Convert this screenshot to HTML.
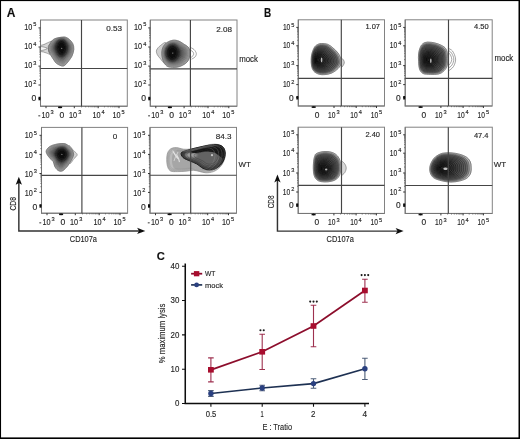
<!DOCTYPE html><html><head><meta charset="utf-8"><style>html,body{margin:0;padding:0;background:#fff;}svg{display:block;}text{font-family:"Liberation Sans", sans-serif;stroke:#2a2a2a;stroke-width:0.15px;}</style></head><body>
<svg width="520" height="439" viewBox="0 0 520 439">
<defs>
<filter id="f0_4" x="-50%" y="-50%" width="200%" height="200%"><feGaussianBlur stdDeviation="0.4"/></filter>
<filter id="f0_5" x="-50%" y="-50%" width="200%" height="200%"><feGaussianBlur stdDeviation="0.5"/></filter>
<filter id="f0_7" x="-50%" y="-50%" width="200%" height="200%"><feGaussianBlur stdDeviation="0.7"/></filter>
<filter id="f1" x="-50%" y="-50%" width="200%" height="200%"><feGaussianBlur stdDeviation="1"/></filter>
<filter id="f1_5" x="-50%" y="-50%" width="200%" height="200%"><feGaussianBlur stdDeviation="1.5"/></filter>
<filter id="f2" x="-50%" y="-50%" width="200%" height="200%"><feGaussianBlur stdDeviation="2"/></filter>
<filter id="f2_5" x="-50%" y="-50%" width="200%" height="200%"><feGaussianBlur stdDeviation="2.5"/></filter>
<filter id="f3" x="-50%" y="-50%" width="200%" height="200%"><feGaussianBlur stdDeviation="3"/></filter>
<filter id="soft" x="0" y="0" width="100%" height="100%"><feGaussianBlur stdDeviation="0.3"/></filter>
</defs>
<rect x="0" y="0" width="520" height="439" fill="#fff"/>
<g filter="url(#soft)">
<text x="6.8" y="16.5" font-size="12" font-weight="bold" fill="#111">A</text>
<text x="264.0" y="16.6" font-size="12" font-weight="bold" fill="#111" textLength="7.2" lengthAdjust="spacingAndGlyphs">B</text>
<text x="156.8" y="259.6" font-size="11.2" font-weight="bold" fill="#111">C</text>
<path d="M52,41 C49,42 44,44.5 41,45.3 L41,51.6 C44,52 47,53 50,54.5 Z" fill="#d6d6d6"/>
<path d="M41,46.5 C43.5,47 46,47.8 47.3,48.4 C46,49 43.5,50 41,50.6 Z" fill="#f4f4f4"/>
<clipPath id="clpa1"><path d="M62.90,37.10 C64.80,36.90 65.10,37.08 66.20,37.50 C67.30,37.92 68.40,38.57 69.50,39.60 C70.60,40.63 72.08,42.07 72.80,43.70 C73.52,45.33 73.93,47.35 73.80,49.40 C73.67,51.45 72.85,54.08 72.00,56.00 C71.15,57.92 69.93,59.33 68.70,60.90 C67.47,62.47 65.83,64.58 64.60,65.40 C63.37,66.22 62.67,66.15 61.30,65.80 C59.93,65.45 57.63,64.27 56.40,63.30 C55.17,62.33 54.85,61.37 53.90,60.00 C52.95,58.63 51.52,56.43 50.70,55.10 C49.88,53.77 49.35,53.27 49.00,52.00 C48.65,50.73 48.32,49.08 48.60,47.50 C48.88,45.92 49.67,43.97 50.70,42.50 C51.73,41.03 52.77,39.60 54.80,38.70 C56.83,37.80 61.00,37.30 62.90,37.10 Z"/></clipPath>
<g filter="url(#f0_4)">
<path d="M62.90,37.10 C64.80,36.90 65.10,37.08 66.20,37.50 C67.30,37.92 68.40,38.57 69.50,39.60 C70.60,40.63 72.08,42.07 72.80,43.70 C73.52,45.33 73.93,47.35 73.80,49.40 C73.67,51.45 72.85,54.08 72.00,56.00 C71.15,57.92 69.93,59.33 68.70,60.90 C67.47,62.47 65.83,64.58 64.60,65.40 C63.37,66.22 62.67,66.15 61.30,65.80 C59.93,65.45 57.63,64.27 56.40,63.30 C55.17,62.33 54.85,61.37 53.90,60.00 C52.95,58.63 51.52,56.43 50.70,55.10 C49.88,53.77 49.35,53.27 49.00,52.00 C48.65,50.73 48.32,49.08 48.60,47.50 C48.88,45.92 49.67,43.97 50.70,42.50 C51.73,41.03 52.77,39.60 54.80,38.70 C56.83,37.80 61.00,37.30 62.90,37.10 Z" fill="rgb(170,170,170)" stroke="rgb(130,130,130)" stroke-width="0.50"/>
<path d="M62.81,37.72 C64.59,37.54 64.87,37.71 65.90,38.10 C66.93,38.49 67.96,39.10 68.99,40.06 C70.01,41.03 71.40,42.37 72.07,43.90 C72.74,45.43 73.13,47.31 73.01,49.23 C72.88,51.15 72.12,53.62 71.33,55.41 C70.53,57.20 69.39,58.53 68.24,59.99 C67.08,61.46 65.55,63.44 64.40,64.20 C63.25,64.97 62.59,64.91 61.31,64.58 C60.03,64.25 57.88,63.14 56.73,62.24 C55.57,61.33 55.28,60.43 54.39,59.15 C53.50,57.87 52.16,55.81 51.39,54.57 C50.63,53.32 50.13,52.85 49.80,51.67 C49.48,50.48 49.16,48.94 49.43,47.45 C49.69,45.97 50.43,44.15 51.39,42.78 C52.36,41.40 53.33,40.06 55.23,39.22 C57.13,38.38 61.03,37.91 62.81,37.72 Z" fill="rgb(160,160,160)" stroke="rgb(120,120,120)" stroke-width="0.50"/>
<path d="M62.72,38.35 C64.38,38.17 64.64,38.33 65.60,38.70 C66.55,39.06 67.51,39.63 68.47,40.53 C69.43,41.43 70.72,42.68 71.35,44.10 C71.97,45.52 72.33,47.28 72.22,49.07 C72.10,50.85 71.39,53.15 70.65,54.82 C69.91,56.49 68.85,57.72 67.77,59.09 C66.70,60.45 65.28,62.30 64.20,63.01 C63.13,63.72 62.52,63.66 61.33,63.36 C60.13,63.05 58.13,62.02 57.06,61.18 C55.98,60.34 55.70,59.49 54.88,58.30 C54.05,57.11 52.80,55.19 52.09,54.03 C51.38,52.87 50.91,52.44 50.61,51.33 C50.30,50.23 50.01,48.79 50.26,47.41 C50.51,46.03 51.19,44.33 52.09,43.05 C52.99,41.77 53.89,40.53 55.66,39.74 C57.43,38.96 61.06,38.52 62.72,38.35 Z" fill="rgb(150,150,150)" stroke="rgb(110,110,110)" stroke-width="0.50"/>
<path d="M62.63,38.97 C64.16,38.81 64.41,38.96 65.29,39.29 C66.18,39.63 67.07,40.15 67.96,40.99 C68.84,41.82 70.04,42.98 70.62,44.30 C71.20,45.62 71.54,47.24 71.43,48.90 C71.32,50.55 70.66,52.68 69.97,54.23 C69.29,55.77 68.31,56.92 67.31,58.18 C66.32,59.45 65.00,61.15 64.00,61.81 C63.01,62.47 62.44,62.42 61.34,62.14 C60.24,61.85 58.38,60.90 57.38,60.12 C56.39,59.34 56.13,58.56 55.37,57.45 C54.60,56.35 53.44,54.58 52.78,53.50 C52.12,52.42 51.69,52.02 51.41,51.00 C51.13,49.97 50.86,48.64 51.09,47.37 C51.32,46.09 51.95,44.51 52.78,43.33 C53.62,42.15 54.45,40.99 56.09,40.26 C57.73,39.54 61.10,39.13 62.63,38.97 Z" fill="rgb(140,140,140)" stroke="rgb(100,100,100)" stroke-width="0.50"/>
<path d="M62.54,39.59 C63.95,39.45 64.17,39.58 64.99,39.89 C65.81,40.20 66.63,40.68 67.44,41.45 C68.26,42.22 69.36,43.28 69.89,44.50 C70.43,45.71 70.74,47.21 70.64,48.73 C70.54,50.25 69.93,52.21 69.30,53.63 C68.67,55.06 67.76,56.11 66.85,57.27 C65.93,58.44 64.72,60.01 63.80,60.62 C62.89,61.22 62.37,61.17 61.35,60.91 C60.34,60.65 58.63,59.78 57.71,59.06 C56.80,58.34 56.56,57.62 55.85,56.61 C55.15,55.59 54.08,53.96 53.48,52.97 C52.87,51.98 52.47,51.60 52.21,50.66 C51.95,49.72 51.71,48.50 51.92,47.32 C52.13,46.14 52.71,44.70 53.48,43.61 C54.24,42.52 55.01,41.45 56.52,40.78 C58.03,40.11 61.13,39.74 62.54,39.59 Z" fill="rgb(130,130,130)" stroke="rgb(90,90,90)" stroke-width="0.50"/>
<path d="M62.45,40.22 C63.74,40.08 63.94,40.21 64.69,40.49 C65.44,40.77 66.18,41.21 66.93,41.91 C67.67,42.62 68.68,43.59 69.17,44.70 C69.65,45.80 69.94,47.17 69.85,48.56 C69.76,49.96 69.20,51.74 68.62,53.04 C68.05,54.34 67.22,55.30 66.39,56.37 C65.55,57.43 64.44,58.87 63.60,59.42 C62.77,59.98 62.29,59.93 61.36,59.69 C60.44,59.46 58.88,58.65 58.04,58.00 C57.20,57.34 56.99,56.68 56.34,55.76 C55.70,54.83 54.73,53.34 54.17,52.43 C53.62,51.53 53.26,51.19 53.02,50.33 C52.78,49.47 52.55,48.35 52.75,47.27 C52.94,46.20 53.47,44.88 54.17,43.88 C54.87,42.89 55.57,41.91 56.95,41.30 C58.33,40.69 61.16,40.35 62.45,40.22 Z" fill="rgb(121,121,121)" stroke="rgb(81,81,81)" stroke-width="0.50"/>
<path d="M62.36,40.84 C63.53,40.72 63.71,40.83 64.39,41.09 C65.06,41.34 65.74,41.74 66.41,42.38 C67.09,43.01 68.00,43.89 68.44,44.90 C68.88,45.90 69.14,47.14 69.06,48.40 C68.97,49.66 68.47,51.27 67.95,52.45 C67.43,53.63 66.68,54.50 65.92,55.46 C65.17,56.42 64.16,57.72 63.40,58.23 C62.65,58.73 62.22,58.69 61.38,58.47 C60.54,58.26 59.12,57.53 58.37,56.94 C57.61,56.34 57.41,55.75 56.83,54.91 C56.25,54.07 55.37,52.72 54.87,51.90 C54.36,51.08 54.04,50.77 53.82,49.99 C53.61,49.22 53.40,48.20 53.58,47.23 C53.75,46.26 54.23,45.06 54.87,44.16 C55.50,43.26 56.14,42.38 57.38,41.82 C58.63,41.27 61.19,40.96 62.36,40.84 Z" fill="rgb(111,111,111)" stroke="rgb(71,71,71)" stroke-width="0.50"/>
<path d="M62.27,41.46 C63.31,41.35 63.48,41.46 64.09,41.69 C64.69,41.91 65.30,42.27 65.90,42.84 C66.51,43.41 67.32,44.20 67.72,45.09 C68.11,45.99 68.34,47.10 68.27,48.23 C68.19,49.36 67.74,50.81 67.28,51.86 C66.81,52.91 66.14,53.69 65.46,54.55 C64.78,55.42 63.88,56.58 63.20,57.03 C62.53,57.48 62.14,57.44 61.39,57.25 C60.64,57.06 59.37,56.41 58.70,55.88 C58.02,55.34 57.84,54.81 57.32,54.06 C56.80,53.31 56.01,52.10 55.56,51.37 C55.11,50.63 54.82,50.36 54.62,49.66 C54.43,48.96 54.25,48.06 54.41,47.19 C54.56,46.31 54.99,45.24 55.56,44.44 C56.13,43.63 56.70,42.84 57.81,42.34 C58.93,41.85 61.22,41.57 62.27,41.46 Z" fill="rgb(102,102,102)" stroke="rgb(62,62,62)" stroke-width="0.50"/>
<path d="M62.18,42.09 C63.10,41.99 63.25,42.08 63.78,42.28 C64.32,42.49 64.85,42.80 65.39,43.30 C65.92,43.80 66.64,44.50 66.99,45.29 C67.34,46.09 67.54,47.07 67.47,48.06 C67.41,49.06 67.01,50.34 66.60,51.27 C66.19,52.20 65.60,52.89 65.00,53.65 C64.40,54.41 63.60,55.44 63.01,55.83 C62.41,56.23 62.07,56.20 61.40,56.03 C60.74,55.86 59.62,55.28 59.02,54.81 C58.42,54.34 58.27,53.88 57.81,53.21 C57.35,52.55 56.65,51.48 56.25,50.83 C55.86,50.18 55.60,49.94 55.43,49.33 C55.26,48.71 55.10,47.91 55.23,47.14 C55.37,46.37 55.75,45.42 56.25,44.71 C56.76,44.00 57.26,43.30 58.25,42.87 C59.23,42.43 61.26,42.19 62.18,42.09 Z" fill="rgb(93,93,93)" stroke="rgb(53,53,53)" stroke-width="0.50"/>
<path d="M62.09,42.71 C62.89,42.63 63.02,42.71 63.48,42.88 C63.94,43.06 64.41,43.33 64.87,43.77 C65.33,44.20 65.96,44.81 66.26,45.49 C66.56,46.18 66.74,47.03 66.68,47.90 C66.63,48.76 66.28,49.87 65.92,50.68 C65.57,51.48 65.05,52.08 64.53,52.74 C64.01,53.40 63.33,54.29 62.81,54.64 C62.29,54.98 61.99,54.95 61.42,54.81 C60.84,54.66 59.87,54.16 59.35,53.75 C58.83,53.35 58.70,52.94 58.30,52.36 C57.90,51.79 57.29,50.86 56.95,50.30 C56.60,49.74 56.38,49.53 56.23,48.99 C56.08,48.46 55.94,47.76 56.06,47.09 C56.18,46.43 56.51,45.61 56.95,44.99 C57.38,44.37 57.82,43.77 58.68,43.39 C59.53,43.01 61.29,42.80 62.09,42.71 Z" fill="rgb(84,84,84)" stroke="rgb(44,44,44)" stroke-width="0.50"/>
<path d="M62.00,43.34 C62.68,43.26 62.79,43.33 63.18,43.48 C63.57,43.63 63.96,43.86 64.36,44.23 C64.75,44.60 65.28,45.11 65.54,45.69 C65.79,46.28 65.94,47.00 65.89,47.73 C65.85,48.46 65.55,49.40 65.25,50.09 C64.95,50.77 64.51,51.28 64.07,51.84 C63.63,52.40 63.05,53.15 62.61,53.44 C62.17,53.73 61.92,53.71 61.43,53.59 C60.94,53.46 60.12,53.04 59.68,52.69 C59.24,52.35 59.12,52.00 58.79,51.51 C58.45,51.03 57.93,50.24 57.64,49.76 C57.35,49.29 57.16,49.11 57.04,48.66 C56.91,48.20 56.79,47.62 56.89,47.05 C56.99,46.48 57.27,45.79 57.64,45.26 C58.01,44.74 58.38,44.23 59.11,43.91 C59.83,43.59 61.32,43.41 62.00,43.34 Z" fill="rgb(75,75,75)" stroke="rgb(35,35,35)" stroke-width="0.50"/>
<path d="M61.91,43.96 C62.47,43.90 62.55,43.95 62.88,44.08 C63.20,44.20 63.52,44.39 63.84,44.69 C64.16,44.99 64.60,45.41 64.81,45.89 C65.02,46.37 65.14,46.96 65.10,47.56 C65.06,48.16 64.82,48.93 64.58,49.49 C64.33,50.06 63.97,50.47 63.61,50.93 C63.25,51.39 62.77,52.01 62.41,52.25 C62.05,52.49 61.84,52.47 61.44,52.36 C61.04,52.26 60.37,51.92 60.01,51.63 C59.65,51.35 59.55,51.07 59.27,50.67 C59.00,50.27 58.58,49.62 58.34,49.23 C58.10,48.84 57.94,48.69 57.84,48.32 C57.74,47.95 57.64,47.47 57.72,47.00 C57.81,46.54 58.03,45.97 58.34,45.54 C58.64,45.11 58.94,44.69 59.54,44.43 C60.13,44.16 61.35,44.02 61.91,43.96 Z" fill="rgb(66,66,66)" stroke="rgb(26,26,26)" stroke-width="0.50"/>
<path d="M61.82,44.58 C62.25,44.54 62.32,44.58 62.57,44.67 C62.83,44.77 63.08,44.92 63.33,45.15 C63.58,45.39 63.92,45.72 64.08,46.09 C64.25,46.46 64.34,46.93 64.31,47.39 C64.28,47.86 64.09,48.46 63.90,48.90 C63.71,49.34 63.43,49.66 63.15,50.02 C62.86,50.38 62.49,50.86 62.21,51.05 C61.93,51.24 61.77,51.22 61.45,51.14 C61.14,51.06 60.62,50.79 60.33,50.57 C60.05,50.35 59.98,50.13 59.76,49.82 C59.55,49.50 59.22,49.00 59.03,48.70 C58.84,48.39 58.72,48.28 58.64,47.99 C58.56,47.70 58.49,47.32 58.55,46.96 C58.62,46.60 58.80,46.15 59.03,45.82 C59.27,45.48 59.50,45.15 59.97,44.95 C60.43,44.74 61.39,44.63 61.82,44.58 Z" fill="rgb(57,57,57)" stroke="rgb(17,17,17)" stroke-width="0.50"/>
<path d="M61.73,45.21 C62.04,45.17 62.09,45.20 62.27,45.27 C62.45,45.34 62.63,45.45 62.81,45.62 C63.00,45.79 63.24,46.02 63.36,46.29 C63.47,46.56 63.54,46.89 63.52,47.23 C63.50,47.56 63.36,48.00 63.23,48.31 C63.09,48.63 62.89,48.86 62.68,49.12 C62.48,49.37 62.21,49.72 62.01,49.86 C61.81,49.99 61.69,49.98 61.47,49.92 C61.24,49.86 60.86,49.67 60.66,49.51 C60.46,49.35 60.41,49.19 60.25,48.97 C60.10,48.74 59.86,48.38 59.73,48.16 C59.59,47.94 59.50,47.86 59.45,47.65 C59.39,47.45 59.33,47.18 59.38,46.91 C59.43,46.65 59.56,46.33 59.73,46.09 C59.90,45.85 60.07,45.62 60.40,45.47 C60.73,45.32 61.42,45.24 61.73,45.21 Z" fill="rgb(49,49,49)" stroke="rgb(9,9,9)" stroke-width="0.50"/>
<path d="M61.64,45.83 C61.83,45.81 61.86,45.83 61.97,45.87 C62.08,45.91 62.19,45.98 62.30,46.08 C62.41,46.18 62.56,46.33 62.63,46.49 C62.70,46.65 62.74,46.85 62.73,47.06 C62.72,47.26 62.63,47.53 62.55,47.72 C62.46,47.91 62.34,48.05 62.22,48.21 C62.10,48.37 61.93,48.58 61.81,48.66 C61.69,48.74 61.62,48.73 61.48,48.70 C61.34,48.66 61.11,48.55 60.99,48.45 C60.87,48.35 60.84,48.26 60.74,48.12 C60.65,47.98 60.50,47.76 60.42,47.63 C60.34,47.50 60.28,47.45 60.25,47.32 C60.22,47.19 60.18,47.03 60.21,46.87 C60.24,46.71 60.32,46.52 60.42,46.37 C60.52,46.22 60.63,46.08 60.83,45.99 C61.03,45.90 61.45,45.85 61.64,45.83 Z" fill="rgb(41,41,41)" stroke="rgb(1,1,1)" stroke-width="0.50"/>
<path d="M62.90,37.10 C64.80,36.90 65.10,37.08 66.20,37.50 C67.30,37.92 68.40,38.57 69.50,39.60 C70.60,40.63 72.08,42.07 72.80,43.70 C73.52,45.33 73.93,47.35 73.80,49.40 C73.67,51.45 72.85,54.08 72.00,56.00 C71.15,57.92 69.93,59.33 68.70,60.90 C67.47,62.47 65.83,64.58 64.60,65.40 C63.37,66.22 62.67,66.15 61.30,65.80 C59.93,65.45 57.63,64.27 56.40,63.30 C55.17,62.33 54.85,61.37 53.90,60.00 C52.95,58.63 51.52,56.43 50.70,55.10 C49.88,53.77 49.35,53.27 49.00,52.00 C48.65,50.73 48.32,49.08 48.60,47.50 C48.88,45.92 49.67,43.97 50.70,42.50 C51.73,41.03 52.77,39.60 54.80,38.70 C56.83,37.80 61.00,37.30 62.90,37.10 Z" fill="none" stroke="#666" stroke-width="0.6"/>
</g>
<ellipse cx="61.50" cy="47.80" rx="5.60" ry="8.80" fill="#0e0e0e" opacity="0.90" filter="url(#f1_5)"/>
<ellipse cx="61.70" cy="48.30" rx="0.60" ry="0.60" fill="#aaa" filter="url(#f0_7)" opacity="0.85"/>
<path d="M52.00,41.00 C51.25,41.30 48.83,42.22 47.50,42.80 C46.17,43.38 45.08,44.08 44.00,44.50 C42.92,44.92 41.50,45.17 41.00,45.30 " fill="none" stroke="#6a6a6a" stroke-width="0.6"/>
<path d="M50.00,54.50 C49.42,54.25 47.58,53.42 46.50,53.00 C45.42,52.58 44.42,52.23 43.50,52.00 C42.58,51.77 41.42,51.67 41.00,51.60 " fill="none" stroke="#6a6a6a" stroke-width="0.6"/>
<path d="M41.00,46.50 C41.58,46.62 43.45,46.88 44.50,47.20 C45.55,47.52 47.30,47.97 47.30,48.40 C47.30,48.83 45.55,49.43 44.50,49.80 C43.45,50.17 41.58,50.47 41.00,50.60 " fill="none" stroke="#6a6a6a" stroke-width="0.6"/>
<path d="M50.50,43.50 C50.17,43.83 48.88,44.67 48.50,45.50 C48.12,46.33 48.12,47.50 48.20,48.50 C48.28,49.50 48.62,50.75 49.00,51.50 C49.38,52.25 50.25,52.75 50.50,53.00 " fill="none" stroke="#6a6a6a" stroke-width="0.6"/>
<path d="M166.00,43.00 C165.08,41.42 162.07,44.33 160.50,45.50 C158.93,46.67 157.15,48.50 156.60,50.00 C156.05,51.50 156.58,53.07 157.20,54.50 C157.82,55.93 159.08,57.18 160.30,58.60 C161.52,60.02 163.55,63.60 164.50,63.00 C165.45,62.40 165.75,58.33 166.00,55.00 C166.25,51.67 166.92,44.58 166.00,43.00 Z" fill="#cfcfcf" stroke="#6e6e6e" stroke-width="0.6"/>
<clipPath id="clpa2"><path d="M173.20,40.20 C175.17,39.97 177.10,40.50 178.80,41.10 C180.50,41.70 181.72,42.65 183.40,43.80 C185.08,44.95 187.82,46.22 188.90,48.00 C189.98,49.78 189.97,52.50 189.90,54.50 C189.83,56.50 189.28,58.47 188.50,60.00 C187.72,61.53 186.67,62.62 185.20,63.70 C183.73,64.78 181.53,65.88 179.70,66.50 C177.87,67.12 176.20,67.40 174.20,67.40 C172.20,67.40 169.35,67.23 167.70,66.50 C166.05,65.77 165.20,64.42 164.30,63.00 C163.40,61.58 162.72,59.83 162.30,58.00 C161.88,56.17 161.63,53.92 161.80,52.00 C161.97,50.08 162.43,48.08 163.30,46.50 C164.17,44.92 165.35,43.55 167.00,42.50 C168.65,41.45 171.23,40.43 173.20,40.20 Z"/></clipPath>
<g filter="url(#f0_4)">
<path d="M173.20,40.20 C175.17,39.97 177.10,40.50 178.80,41.10 C180.50,41.70 181.72,42.65 183.40,43.80 C185.08,44.95 187.82,46.22 188.90,48.00 C189.98,49.78 189.97,52.50 189.90,54.50 C189.83,56.50 189.28,58.47 188.50,60.00 C187.72,61.53 186.67,62.62 185.20,63.70 C183.73,64.78 181.53,65.88 179.70,66.50 C177.87,67.12 176.20,67.40 174.20,67.40 C172.20,67.40 169.35,67.23 167.70,66.50 C166.05,65.77 165.20,64.42 164.30,63.00 C163.40,61.58 162.72,59.83 162.30,58.00 C161.88,56.17 161.63,53.92 161.80,52.00 C161.97,50.08 162.43,48.08 163.30,46.50 C164.17,44.92 165.35,43.55 167.00,42.50 C168.65,41.45 171.23,40.43 173.20,40.20 Z" fill="rgb(170,170,170)" stroke="rgb(130,130,130)" stroke-width="0.50"/>
<path d="M173.16,40.99 C175.00,40.77 176.80,41.27 178.40,41.83 C179.99,42.39 181.12,43.28 182.70,44.36 C184.27,45.44 186.83,46.62 187.85,48.29 C188.86,49.96 188.84,52.50 188.78,54.37 C188.72,56.24 188.20,58.08 187.47,59.52 C186.74,60.95 185.76,61.97 184.38,62.98 C183.01,63.99 180.95,65.02 179.24,65.60 C177.52,66.18 175.96,66.44 174.09,66.44 C172.22,66.44 169.55,66.29 168.01,65.60 C166.46,64.91 165.67,63.65 164.83,62.33 C163.99,61.00 163.35,59.36 162.96,57.65 C162.57,55.93 162.33,53.83 162.49,52.03 C162.64,50.24 163.08,48.37 163.89,46.89 C164.70,45.40 165.81,44.13 167.35,43.14 C168.90,42.16 171.31,41.21 173.16,40.99 Z" fill="rgb(160,160,160)" stroke="rgb(120,120,120)" stroke-width="0.50"/>
<path d="M173.11,41.78 C174.82,41.58 176.51,42.04 177.99,42.57 C179.47,43.09 180.53,43.92 182.00,44.92 C183.47,45.92 185.85,47.02 186.79,48.58 C187.74,50.13 187.72,52.50 187.66,54.24 C187.60,55.99 187.13,57.70 186.44,59.04 C185.76,60.37 184.85,61.32 183.57,62.26 C182.29,63.20 180.37,64.16 178.77,64.70 C177.18,65.24 175.72,65.48 173.98,65.48 C172.24,65.48 169.75,65.34 168.32,64.70 C166.88,64.06 166.14,62.88 165.35,61.65 C164.57,60.42 163.97,58.89 163.61,57.29 C163.25,55.70 163.03,53.73 163.18,52.06 C163.32,50.39 163.73,48.65 164.48,47.27 C165.24,45.89 166.27,44.70 167.71,43.79 C169.14,42.87 171.40,41.98 173.11,41.78 Z" fill="rgb(150,150,150)" stroke="rgb(110,110,110)" stroke-width="0.50"/>
<path d="M173.06,42.57 C174.65,42.38 176.21,42.81 177.59,43.30 C178.96,43.78 179.94,44.55 181.30,45.48 C182.66,46.41 184.86,47.43 185.74,48.87 C186.61,50.31 186.60,52.50 186.54,54.11 C186.49,55.73 186.05,57.32 185.41,58.55 C184.78,59.79 183.93,60.67 182.75,61.54 C181.57,62.41 179.79,63.30 178.31,63.80 C176.83,64.30 175.49,64.53 173.87,64.53 C172.26,64.53 169.96,64.39 168.63,63.80 C167.29,63.21 166.61,62.12 165.88,60.98 C165.16,59.83 164.60,58.42 164.27,56.94 C163.93,55.46 163.73,53.64 163.86,52.10 C164.00,50.55 164.37,48.94 165.07,47.66 C165.77,46.38 166.73,45.28 168.06,44.43 C169.39,43.58 171.48,42.76 173.06,42.57 Z" fill="rgb(140,140,140)" stroke="rgb(100,100,100)" stroke-width="0.50"/>
<path d="M173.02,43.36 C174.48,43.19 175.92,43.59 177.18,44.03 C178.44,44.48 179.35,45.18 180.60,46.04 C181.85,46.89 183.88,47.83 184.68,49.16 C185.49,50.48 185.48,52.50 185.43,53.99 C185.38,55.47 184.97,56.93 184.39,58.07 C183.80,59.21 183.02,60.02 181.93,60.82 C180.84,61.62 179.21,62.44 177.85,62.90 C176.49,63.36 175.25,63.57 173.76,63.57 C172.28,63.57 170.16,63.44 168.93,62.90 C167.71,62.36 167.08,61.35 166.41,60.30 C165.74,59.25 165.23,57.95 164.92,56.59 C164.61,55.22 164.43,53.55 164.55,52.13 C164.68,50.70 165.02,49.22 165.67,48.04 C166.31,46.87 167.19,45.85 168.41,45.07 C169.64,44.29 171.56,43.54 173.02,43.36 Z" fill="rgb(130,130,130)" stroke="rgb(90,90,90)" stroke-width="0.50"/>
<path d="M172.97,44.15 C174.31,44.00 175.62,44.36 176.78,44.76 C177.93,45.17 178.75,45.82 179.90,46.60 C181.04,47.38 182.89,48.24 183.63,49.45 C184.36,50.66 184.35,52.50 184.31,53.86 C184.26,55.21 183.89,56.55 183.36,57.59 C182.83,58.63 182.11,59.36 181.12,60.10 C180.12,60.84 178.63,61.58 177.39,62.00 C176.14,62.42 175.01,62.61 173.65,62.61 C172.30,62.61 170.36,62.50 169.24,62.00 C168.12,61.50 167.55,60.59 166.94,59.62 C166.32,58.66 165.86,57.48 165.58,56.23 C165.30,54.99 165.13,53.46 165.24,52.16 C165.35,50.86 165.67,49.50 166.26,48.43 C166.85,47.35 167.65,46.43 168.77,45.71 C169.89,45.00 171.64,44.31 172.97,44.15 Z" fill="rgb(121,121,121)" stroke="rgb(81,81,81)" stroke-width="0.50"/>
<path d="M172.93,44.94 C174.14,44.80 175.33,45.13 176.37,45.50 C177.41,45.87 178.16,46.45 179.20,47.16 C180.23,47.86 181.91,48.64 182.57,49.74 C183.24,50.83 183.23,52.50 183.19,53.73 C183.15,54.96 182.81,56.17 182.33,57.11 C181.85,58.05 181.20,58.71 180.30,59.38 C179.40,60.05 178.05,60.72 176.92,61.10 C175.80,61.48 174.77,61.65 173.54,61.65 C172.32,61.65 170.56,61.55 169.55,61.10 C168.54,60.65 168.02,59.82 167.46,58.95 C166.91,58.08 166.49,57.00 166.23,55.88 C165.98,54.75 165.82,53.37 165.93,52.19 C166.03,51.02 166.32,49.79 166.85,48.81 C167.38,47.84 168.11,47.00 169.12,46.36 C170.13,45.71 171.72,45.09 172.93,44.94 Z" fill="rgb(111,111,111)" stroke="rgb(71,71,71)" stroke-width="0.50"/>
<path d="M172.88,45.73 C173.97,45.61 175.03,45.90 175.97,46.23 C176.90,46.56 177.57,47.08 178.50,47.71 C179.42,48.35 180.92,49.04 181.52,50.02 C182.12,51.01 182.11,52.50 182.07,53.60 C182.03,54.70 181.73,55.78 181.30,56.62 C180.87,57.47 180.29,58.06 179.48,58.66 C178.68,59.26 177.47,59.86 176.46,60.20 C175.45,60.54 174.53,60.70 173.44,60.70 C172.34,60.70 170.77,60.60 169.86,60.20 C168.95,59.80 168.49,59.05 167.99,58.27 C167.50,57.50 167.12,56.53 166.89,55.52 C166.66,54.52 166.52,53.28 166.62,52.23 C166.71,51.17 166.96,50.07 167.44,49.20 C167.92,48.33 168.57,47.58 169.47,47.00 C170.38,46.42 171.80,45.86 172.88,45.73 Z" fill="rgb(102,102,102)" stroke="rgb(62,62,62)" stroke-width="0.50"/>
<path d="M172.84,46.53 C173.80,46.41 174.73,46.67 175.56,46.96 C176.39,47.25 176.98,47.72 177.79,48.27 C178.61,48.83 179.94,49.45 180.47,50.31 C180.99,51.18 180.98,52.50 180.95,53.47 C180.92,54.44 180.65,55.40 180.27,56.14 C179.89,56.89 179.38,57.41 178.67,57.94 C177.96,58.47 176.89,59.00 176.00,59.30 C175.11,59.60 174.30,59.74 173.33,59.74 C172.35,59.74 170.97,59.66 170.17,59.30 C169.37,58.94 168.95,58.29 168.52,57.60 C168.08,56.91 167.75,56.06 167.55,55.17 C167.34,54.28 167.22,53.19 167.30,52.26 C167.38,51.33 167.61,50.35 168.03,49.59 C168.45,48.82 169.03,48.15 169.83,47.64 C170.63,47.13 171.88,46.64 172.84,46.53 Z" fill="rgb(93,93,93)" stroke="rgb(53,53,53)" stroke-width="0.50"/>
<path d="M172.79,47.32 C173.62,47.22 174.44,47.44 175.16,47.70 C175.87,47.95 176.38,48.35 177.09,48.83 C177.80,49.32 178.95,49.85 179.41,50.60 C179.87,51.36 179.86,52.50 179.83,53.34 C179.80,54.19 179.57,55.01 179.24,55.66 C178.91,56.31 178.47,56.76 177.85,57.22 C177.23,57.68 176.31,58.14 175.53,58.40 C174.76,58.66 174.06,58.78 173.22,58.78 C172.37,58.78 171.17,58.71 170.48,58.40 C169.78,58.09 169.42,57.52 169.04,56.92 C168.66,56.33 168.38,55.59 168.20,54.82 C168.03,54.05 167.92,53.10 167.99,52.29 C168.06,51.48 168.26,50.64 168.62,49.97 C168.99,49.30 169.49,48.73 170.18,48.29 C170.88,47.84 171.97,47.41 172.79,47.32 Z" fill="rgb(84,84,84)" stroke="rgb(44,44,44)" stroke-width="0.50"/>
<path d="M172.75,48.11 C173.45,48.02 174.14,48.21 174.75,48.43 C175.36,48.64 175.79,48.98 176.39,49.39 C176.99,49.80 177.97,50.26 178.36,50.89 C178.74,51.53 178.74,52.50 178.71,53.21 C178.69,53.93 178.49,54.63 178.21,55.18 C177.93,55.73 177.56,56.11 177.04,56.50 C176.51,56.89 175.73,57.28 175.07,57.50 C174.42,57.72 173.82,57.82 173.11,57.82 C172.39,57.82 171.38,57.76 170.79,57.50 C170.20,57.24 169.89,56.76 169.57,56.25 C169.25,55.74 169.01,55.12 168.86,54.46 C168.71,53.81 168.62,53.01 168.68,52.32 C168.74,51.64 168.90,50.92 169.21,50.36 C169.52,49.79 169.95,49.30 170.54,48.93 C171.12,48.55 172.05,48.19 172.75,48.11 Z" fill="rgb(75,75,75)" stroke="rgb(35,35,35)" stroke-width="0.50"/>
<path d="M172.70,48.90 C173.28,48.83 173.85,48.99 174.34,49.16 C174.84,49.34 175.20,49.62 175.69,49.95 C176.19,50.29 176.99,50.66 177.30,51.18 C177.62,51.70 177.62,52.50 177.60,53.09 C177.58,53.67 177.42,54.25 177.19,54.70 C176.96,55.15 176.65,55.46 176.22,55.78 C175.79,56.10 175.15,56.42 174.61,56.60 C174.07,56.78 173.58,56.86 173.00,56.86 C172.41,56.86 171.58,56.81 171.09,56.60 C170.61,56.39 170.36,55.99 170.10,55.58 C169.84,55.16 169.63,54.65 169.51,54.11 C169.39,53.57 169.32,52.91 169.37,52.35 C169.42,51.79 169.55,51.21 169.81,50.74 C170.06,50.28 170.41,49.88 170.89,49.57 C171.37,49.26 172.13,48.97 172.70,48.90 Z" fill="rgb(66,66,66)" stroke="rgb(26,26,26)" stroke-width="0.50"/>
<path d="M172.66,49.69 C173.11,49.64 173.55,49.76 173.94,49.89 C174.33,50.03 174.61,50.25 174.99,50.51 C175.38,50.77 176.00,51.06 176.25,51.47 C176.50,51.88 176.49,52.50 176.48,52.96 C176.46,53.41 176.34,53.86 176.16,54.21 C175.98,54.56 175.74,54.81 175.40,55.06 C175.07,55.31 174.56,55.56 174.15,55.70 C173.73,55.84 173.35,55.91 172.89,55.91 C172.43,55.91 171.78,55.87 171.40,55.70 C171.03,55.53 170.83,55.22 170.63,54.90 C170.42,54.58 170.26,54.18 170.17,53.76 C170.07,53.34 170.02,52.82 170.05,52.39 C170.09,51.95 170.20,51.49 170.40,51.13 C170.60,50.77 170.87,50.45 171.24,50.21 C171.62,49.97 172.21,49.74 172.66,49.69 Z" fill="rgb(57,57,57)" stroke="rgb(17,17,17)" stroke-width="0.50"/>
<path d="M172.62,50.48 C172.94,50.44 173.26,50.53 173.53,50.63 C173.81,50.73 174.01,50.88 174.29,51.07 C174.57,51.26 175.02,51.47 175.19,51.76 C175.37,52.05 175.37,52.50 175.36,52.83 C175.35,53.16 175.26,53.48 175.13,53.73 C175.00,53.98 174.83,54.16 174.59,54.34 C174.35,54.52 173.98,54.70 173.68,54.80 C173.38,54.90 173.11,54.95 172.78,54.95 C172.45,54.95 171.98,54.92 171.71,54.80 C171.44,54.68 171.30,54.46 171.15,54.23 C171.01,53.99 170.89,53.70 170.82,53.40 C170.76,53.10 170.71,52.73 170.74,52.42 C170.77,52.10 170.85,51.77 170.99,51.51 C171.13,51.25 171.33,51.03 171.60,50.86 C171.87,50.68 172.29,50.52 172.62,50.48 Z" fill="rgb(49,49,49)" stroke="rgb(9,9,9)" stroke-width="0.50"/>
<path d="M172.57,51.27 C172.77,51.25 172.96,51.30 173.13,51.36 C173.30,51.42 173.42,51.52 173.59,51.63 C173.76,51.75 174.03,51.87 174.14,52.05 C174.25,52.23 174.25,52.50 174.24,52.70 C174.23,52.90 174.18,53.10 174.10,53.25 C174.02,53.40 173.92,53.51 173.77,53.62 C173.62,53.73 173.40,53.84 173.22,53.90 C173.04,53.96 172.87,53.99 172.67,53.99 C172.47,53.99 172.19,53.97 172.02,53.90 C171.86,53.83 171.77,53.69 171.68,53.55 C171.59,53.41 171.52,53.23 171.48,53.05 C171.44,52.87 171.41,52.64 171.43,52.45 C171.45,52.26 171.49,52.06 171.58,51.90 C171.67,51.74 171.78,51.60 171.95,51.50 C172.11,51.40 172.37,51.29 172.57,51.27 Z" fill="rgb(41,41,41)" stroke="rgb(1,1,1)" stroke-width="0.50"/>
<path d="M173.20,40.20 C175.17,39.97 177.10,40.50 178.80,41.10 C180.50,41.70 181.72,42.65 183.40,43.80 C185.08,44.95 187.82,46.22 188.90,48.00 C189.98,49.78 189.97,52.50 189.90,54.50 C189.83,56.50 189.28,58.47 188.50,60.00 C187.72,61.53 186.67,62.62 185.20,63.70 C183.73,64.78 181.53,65.88 179.70,66.50 C177.87,67.12 176.20,67.40 174.20,67.40 C172.20,67.40 169.35,67.23 167.70,66.50 C166.05,65.77 165.20,64.42 164.30,63.00 C163.40,61.58 162.72,59.83 162.30,58.00 C161.88,56.17 161.63,53.92 161.80,52.00 C161.97,50.08 162.43,48.08 163.30,46.50 C164.17,44.92 165.35,43.55 167.00,42.50 C168.65,41.45 171.23,40.43 173.20,40.20 Z" fill="none" stroke="#666" stroke-width="0.6"/>
</g>
<ellipse cx="172.30" cy="52.80" rx="6.50" ry="8.50" fill="#0e0e0e" opacity="0.90" filter="url(#f1_5)"/>
<ellipse cx="172.80" cy="53.10" rx="0.60" ry="0.60" fill="#aaa" filter="url(#f0_7)" opacity="0.85"/>
<path d="M189.50,47.00 C190.25,47.42 192.87,48.42 194.00,49.50 C195.13,50.58 196.13,52.25 196.30,53.50 C196.47,54.75 195.80,56.05 195.00,57.00 C194.20,57.95 192.08,58.83 191.50,59.20 " fill="none" stroke="#6a6a6a" stroke-width="0.6"/>
<path d="M189.50,49.50 C190.08,49.92 192.33,51.08 193.00,52.00 C193.67,52.92 193.83,54.08 193.50,55.00 C193.17,55.92 191.42,57.08 191.00,57.50 " fill="none" stroke="#6a6a6a" stroke-width="0.6"/>
<path d="M68.50,146.00 C69.17,143.92 72.05,149.05 73.50,150.50 C74.95,151.95 77.12,153.35 77.20,154.70 C77.28,156.05 75.28,157.22 74.00,158.60 C72.72,159.98 70.42,165.10 69.50,163.00 C68.58,160.90 67.83,148.08 68.50,146.00 Z" fill="#d4d4d4" stroke="#777" stroke-width="0.6"/>
<clipPath id="clpa3"><path d="M61.10,143.60 C62.83,143.53 64.43,143.40 65.90,144.00 C67.37,144.60 68.78,146.10 69.90,147.20 C71.02,148.30 71.98,149.37 72.60,150.60 C73.22,151.83 73.67,153.27 73.60,154.60 C73.53,155.93 72.95,157.05 72.20,158.60 C71.45,160.15 70.15,162.35 69.10,163.90 C68.05,165.45 67.10,166.70 65.90,167.90 C64.70,169.10 63.23,170.70 61.90,171.10 C60.57,171.50 59.10,171.10 57.90,170.30 C56.70,169.50 55.48,167.77 54.70,166.30 C53.92,164.83 54.12,162.97 53.20,161.50 C52.28,160.03 50.33,158.97 49.20,157.50 C48.07,156.03 46.80,154.02 46.40,152.70 C46.00,151.38 46.20,150.65 46.80,149.60 C47.40,148.55 48.55,147.27 50.00,146.40 C51.45,145.53 53.65,144.87 55.50,144.40 C57.35,143.93 59.37,143.67 61.10,143.60 Z"/></clipPath>
<g filter="url(#f0_4)">
<path d="M61.10,143.60 C62.83,143.53 64.43,143.40 65.90,144.00 C67.37,144.60 68.78,146.10 69.90,147.20 C71.02,148.30 71.98,149.37 72.60,150.60 C73.22,151.83 73.67,153.27 73.60,154.60 C73.53,155.93 72.95,157.05 72.20,158.60 C71.45,160.15 70.15,162.35 69.10,163.90 C68.05,165.45 67.10,166.70 65.90,167.90 C64.70,169.10 63.23,170.70 61.90,171.10 C60.57,171.50 59.10,171.10 57.90,170.30 C56.70,169.50 55.48,167.77 54.70,166.30 C53.92,164.83 54.12,162.97 53.20,161.50 C52.28,160.03 50.33,158.97 49.20,157.50 C48.07,156.03 46.80,154.02 46.40,152.70 C46.00,151.38 46.20,150.65 46.80,149.60 C47.40,148.55 48.55,147.27 50.00,146.40 C51.45,145.53 53.65,144.87 55.50,144.40 C57.35,143.93 59.37,143.67 61.10,143.60 Z" fill="rgb(170,170,170)" stroke="rgb(130,130,130)" stroke-width="0.50"/>
<path d="M61.15,144.30 C62.77,144.24 64.27,144.11 65.64,144.68 C67.02,145.24 68.34,146.64 69.39,147.67 C70.43,148.70 71.34,149.70 71.91,150.85 C72.49,152.00 72.91,153.35 72.85,154.59 C72.79,155.84 72.24,156.89 71.54,158.34 C70.84,159.79 69.62,161.85 68.64,163.30 C67.65,164.75 66.77,165.92 65.64,167.04 C64.52,168.16 63.15,169.66 61.90,170.03 C60.65,170.41 59.28,170.03 58.16,169.28 C57.03,168.54 55.90,166.91 55.16,165.54 C54.43,164.17 54.62,162.42 53.76,161.05 C52.90,159.68 51.08,158.68 50.02,157.31 C48.96,155.93 47.77,154.05 47.40,152.82 C47.02,151.58 47.21,150.90 47.77,149.91 C48.33,148.93 49.41,147.73 50.77,146.92 C52.12,146.11 54.18,145.49 55.91,145.05 C57.64,144.61 59.53,144.36 61.15,144.30 Z" fill="rgb(160,160,160)" stroke="rgb(120,120,120)" stroke-width="0.50"/>
<path d="M61.20,145.00 C62.71,144.94 64.11,144.83 65.39,145.35 C66.66,145.87 67.90,147.18 68.87,148.14 C69.84,149.10 70.69,150.03 71.22,151.10 C71.76,152.18 72.15,153.43 72.10,154.59 C72.04,155.75 71.53,156.72 70.88,158.07 C70.22,159.42 69.09,161.34 68.17,162.69 C67.26,164.04 66.43,165.13 65.39,166.18 C64.34,167.22 63.06,168.62 61.90,168.97 C60.74,169.31 59.46,168.97 58.41,168.27 C57.37,167.57 56.31,166.06 55.63,164.78 C54.94,163.50 55.12,161.88 54.32,160.60 C53.52,159.32 51.82,158.39 50.83,157.11 C49.85,155.84 48.74,154.08 48.39,152.93 C48.04,151.78 48.22,151.14 48.74,150.23 C49.26,149.31 50.27,148.20 51.53,147.44 C52.79,146.69 54.71,146.11 56.32,145.70 C57.94,145.29 59.69,145.06 61.20,145.00 Z" fill="rgb(150,150,150)" stroke="rgb(110,110,110)" stroke-width="0.50"/>
<path d="M61.25,145.70 C62.65,145.65 63.94,145.54 65.13,146.03 C66.31,146.51 67.46,147.72 68.36,148.61 C69.26,149.50 70.04,150.36 70.54,151.35 C71.03,152.35 71.40,153.50 71.34,154.58 C71.29,155.66 70.82,156.56 70.21,157.81 C69.61,159.06 68.56,160.84 67.71,162.09 C66.86,163.34 66.10,164.35 65.13,165.32 C64.16,166.28 62.98,167.58 61.90,167.90 C60.82,168.22 59.64,167.90 58.67,167.25 C57.70,166.61 56.72,165.21 56.09,164.02 C55.46,162.84 55.62,161.33 54.88,160.15 C54.14,158.97 52.56,158.11 51.65,156.92 C50.73,155.74 49.71,154.11 49.39,153.05 C49.07,151.98 49.23,151.39 49.71,150.54 C50.20,149.70 51.12,148.66 52.30,147.96 C53.47,147.26 55.24,146.72 56.73,146.35 C58.23,145.97 59.86,145.76 61.25,145.70 Z" fill="rgb(140,140,140)" stroke="rgb(100,100,100)" stroke-width="0.50"/>
<path d="M61.31,146.40 C62.59,146.35 63.78,146.25 64.87,146.70 C65.96,147.15 67.01,148.26 67.84,149.08 C68.67,149.89 69.39,150.69 69.85,151.60 C70.31,152.52 70.64,153.58 70.59,154.57 C70.54,155.56 70.11,156.39 69.55,157.55 C68.99,158.70 68.03,160.33 67.25,161.48 C66.47,162.63 65.76,163.56 64.87,164.45 C63.98,165.35 62.89,166.53 61.90,166.83 C60.91,167.13 59.82,166.83 58.93,166.24 C58.04,165.64 57.13,164.36 56.55,163.27 C55.97,162.18 56.12,160.79 55.44,159.70 C54.76,158.61 53.31,157.82 52.47,156.73 C51.62,155.64 50.68,154.14 50.39,153.16 C50.09,152.18 50.24,151.64 50.68,150.86 C51.13,150.08 51.98,149.13 53.06,148.48 C54.14,147.84 55.77,147.34 57.15,147.00 C58.52,146.65 60.02,146.45 61.31,146.40 Z" fill="rgb(130,130,130)" stroke="rgb(90,90,90)" stroke-width="0.50"/>
<path d="M61.36,147.10 C62.53,147.06 63.62,146.97 64.61,147.38 C65.61,147.78 66.57,148.80 67.33,149.55 C68.09,150.29 68.74,151.02 69.16,151.85 C69.58,152.69 69.88,153.66 69.84,154.57 C69.79,155.47 69.40,156.23 68.89,157.28 C68.38,158.33 67.50,159.83 66.79,160.88 C66.07,161.93 65.43,162.78 64.61,163.59 C63.80,164.41 62.80,165.49 61.90,165.76 C61.00,166.04 60.00,165.76 59.19,165.22 C58.37,164.68 57.55,163.50 57.01,162.51 C56.48,161.51 56.62,160.25 56.00,159.25 C55.37,158.25 54.05,157.53 53.28,156.54 C52.51,155.54 51.65,154.17 51.38,153.28 C51.11,152.39 51.25,151.89 51.65,151.17 C52.06,150.46 52.84,149.59 53.83,149.00 C54.81,148.42 56.30,147.96 57.56,147.65 C58.81,147.33 60.18,147.15 61.36,147.10 Z" fill="rgb(121,121,121)" stroke="rgb(81,81,81)" stroke-width="0.50"/>
<path d="M61.41,147.80 C62.47,147.76 63.46,147.68 64.36,148.05 C65.26,148.42 66.13,149.34 66.81,150.02 C67.50,150.69 68.09,151.35 68.47,152.10 C68.85,152.86 69.13,153.74 69.09,154.56 C69.05,155.38 68.69,156.07 68.23,157.02 C67.77,157.97 66.97,159.32 66.32,160.27 C65.68,161.23 65.09,161.99 64.36,162.73 C63.62,163.47 62.72,164.45 61.90,164.70 C61.08,164.94 60.18,164.70 59.44,164.21 C58.71,163.71 57.96,162.65 57.48,161.75 C57.00,160.85 57.12,159.70 56.56,158.80 C55.99,157.90 54.79,157.24 54.10,156.34 C53.40,155.44 52.62,154.20 52.38,153.39 C52.13,152.59 52.26,152.13 52.62,151.49 C52.99,150.85 53.70,150.06 54.59,149.52 C55.48,148.99 56.83,148.58 57.97,148.30 C59.11,148.01 60.34,147.85 61.41,147.80 Z" fill="rgb(111,111,111)" stroke="rgb(71,71,71)" stroke-width="0.50"/>
<path d="M61.46,148.50 C62.41,148.47 63.29,148.39 64.10,148.72 C64.91,149.06 65.69,149.88 66.30,150.48 C66.91,151.09 67.45,151.68 67.78,152.35 C68.12,153.03 68.37,153.82 68.33,154.56 C68.30,155.29 67.98,155.90 67.56,156.75 C67.15,157.61 66.44,158.82 65.86,159.67 C65.28,160.52 64.76,161.21 64.10,161.87 C63.44,162.53 62.63,163.41 61.90,163.63 C61.17,163.85 60.36,163.63 59.70,163.19 C59.04,162.75 58.37,161.80 57.94,160.99 C57.51,160.18 57.62,159.16 57.12,158.35 C56.61,157.54 55.54,156.96 54.91,156.15 C54.29,155.34 53.59,154.23 53.38,153.51 C53.16,152.79 53.27,152.38 53.59,151.81 C53.92,151.23 54.56,150.52 55.35,150.05 C56.15,149.57 57.36,149.20 58.38,148.94 C59.40,148.69 60.51,148.54 61.46,148.50 Z" fill="rgb(102,102,102)" stroke="rgb(62,62,62)" stroke-width="0.50"/>
<path d="M61.51,149.21 C62.35,149.17 63.13,149.11 63.84,149.40 C64.56,149.69 65.24,150.42 65.79,150.95 C66.33,151.49 66.80,152.01 67.10,152.61 C67.40,153.20 67.62,153.90 67.58,154.55 C67.55,155.20 67.27,155.74 66.90,156.49 C66.54,157.24 65.91,158.31 65.40,159.07 C64.89,159.82 64.43,160.43 63.84,161.01 C63.26,161.59 62.55,162.37 61.90,162.56 C61.25,162.76 60.54,162.56 59.96,162.17 C59.37,161.79 58.78,160.94 58.40,160.23 C58.02,159.52 58.12,158.61 57.67,157.90 C57.23,157.19 56.28,156.67 55.73,155.96 C55.18,155.24 54.57,154.27 54.37,153.63 C54.18,152.99 54.27,152.63 54.57,152.12 C54.86,151.61 55.42,150.99 56.12,150.57 C56.82,150.14 57.89,149.82 58.79,149.59 C59.69,149.37 60.67,149.24 61.51,149.21 Z" fill="rgb(93,93,93)" stroke="rgb(53,53,53)" stroke-width="0.50"/>
<path d="M61.56,149.91 C62.29,149.88 62.97,149.82 63.59,150.07 C64.20,150.33 64.80,150.96 65.27,151.42 C65.74,151.89 66.15,152.34 66.41,152.86 C66.67,153.38 66.86,153.98 66.83,154.54 C66.80,155.10 66.56,155.57 66.24,156.23 C65.92,156.88 65.38,157.81 64.93,158.46 C64.49,159.11 64.09,159.64 63.59,160.15 C63.08,160.65 62.46,161.33 61.90,161.50 C61.34,161.66 60.72,161.50 60.21,161.16 C59.71,160.82 59.20,160.09 58.87,159.47 C58.54,158.85 58.62,158.07 58.23,157.45 C57.85,156.83 57.03,156.38 56.55,155.76 C56.07,155.15 55.54,154.30 55.37,153.74 C55.20,153.19 55.28,152.88 55.54,152.44 C55.79,151.99 56.27,151.45 56.88,151.09 C57.50,150.72 58.42,150.44 59.20,150.24 C59.98,150.05 60.83,149.93 61.56,149.91 Z" fill="rgb(84,84,84)" stroke="rgb(44,44,44)" stroke-width="0.50"/>
<path d="M61.61,150.61 C62.23,150.58 62.80,150.54 63.33,150.75 C63.85,150.96 64.36,151.50 64.76,151.89 C65.16,152.29 65.50,152.67 65.72,153.11 C65.94,153.55 66.10,154.06 66.08,154.54 C66.05,155.01 65.85,155.41 65.58,155.96 C65.31,156.52 64.85,157.30 64.47,157.86 C64.10,158.41 63.76,158.86 63.33,159.29 C62.90,159.71 62.38,160.29 61.90,160.43 C61.42,160.57 60.90,160.43 60.47,160.14 C60.04,159.86 59.61,159.24 59.33,158.71 C59.05,158.19 59.12,157.52 58.79,157.00 C58.47,156.48 57.77,156.10 57.36,155.57 C56.96,155.05 56.51,154.33 56.36,153.86 C56.22,153.39 56.29,153.12 56.51,152.75 C56.72,152.38 57.13,151.92 57.65,151.61 C58.17,151.30 58.95,151.06 59.61,150.89 C60.27,150.73 61.00,150.63 61.61,150.61 Z" fill="rgb(75,75,75)" stroke="rgb(35,35,35)" stroke-width="0.50"/>
<path d="M61.67,151.31 C62.17,151.29 62.64,151.25 63.07,151.43 C63.50,151.60 63.92,152.04 64.24,152.36 C64.57,152.68 64.85,153.00 65.03,153.36 C65.21,153.72 65.35,154.14 65.33,154.53 C65.31,154.92 65.14,155.25 64.92,155.70 C64.70,156.15 64.32,156.80 64.01,157.25 C63.70,157.71 63.42,158.07 63.07,158.42 C62.72,158.78 62.29,159.24 61.90,159.36 C61.51,159.48 61.08,159.36 60.73,159.13 C60.38,158.89 60.02,158.39 59.79,157.96 C59.56,157.53 59.62,156.98 59.35,156.55 C59.08,156.12 58.51,155.81 58.18,155.38 C57.85,154.95 57.48,154.36 57.36,153.97 C57.24,153.59 57.30,153.37 57.48,153.06 C57.65,152.76 57.99,152.38 58.41,152.13 C58.84,151.87 59.48,151.68 60.03,151.54 C60.57,151.41 61.16,151.33 61.67,151.31 Z" fill="rgb(66,66,66)" stroke="rgb(26,26,26)" stroke-width="0.50"/>
<path d="M61.72,152.01 C62.11,151.99 62.48,151.96 62.81,152.10 C63.15,152.24 63.47,152.58 63.73,152.83 C63.98,153.08 64.20,153.33 64.35,153.61 C64.49,153.89 64.59,154.22 64.57,154.52 C64.56,154.83 64.43,155.08 64.25,155.44 C64.08,155.79 63.79,156.29 63.55,156.65 C63.31,157.00 63.09,157.29 62.81,157.56 C62.54,157.84 62.20,158.20 61.90,158.29 C61.60,158.39 61.26,158.29 60.99,158.11 C60.71,157.93 60.43,157.53 60.25,157.20 C60.08,156.86 60.12,156.44 59.91,156.10 C59.70,155.76 59.26,155.52 59.00,155.19 C58.74,154.85 58.45,154.39 58.36,154.09 C58.27,153.79 58.31,153.62 58.45,153.38 C58.59,153.14 58.85,152.85 59.18,152.65 C59.51,152.45 60.01,152.30 60.44,152.19 C60.86,152.08 61.32,152.02 61.72,152.01 Z" fill="rgb(57,57,57)" stroke="rgb(17,17,17)" stroke-width="0.50"/>
<path d="M61.77,152.71 C62.05,152.70 62.32,152.68 62.56,152.78 C62.80,152.87 63.03,153.12 63.21,153.30 C63.40,153.48 63.56,153.66 63.66,153.86 C63.76,154.06 63.83,154.30 63.82,154.52 C63.81,154.74 63.72,154.92 63.59,155.17 C63.47,155.43 63.26,155.79 63.08,156.04 C62.91,156.30 62.75,156.50 62.56,156.70 C62.36,156.90 62.12,157.16 61.90,157.23 C61.68,157.29 61.44,157.23 61.24,157.10 C61.05,156.96 60.85,156.68 60.72,156.44 C60.59,156.20 60.62,155.89 60.47,155.65 C60.32,155.41 60.00,155.23 59.81,154.99 C59.63,154.75 59.42,154.42 59.35,154.20 C59.29,153.99 59.32,153.87 59.42,153.69 C59.52,153.52 59.71,153.31 59.95,153.17 C60.18,153.03 60.54,152.92 60.85,152.84 C61.15,152.76 61.48,152.72 61.77,152.71 Z" fill="rgb(49,49,49)" stroke="rgb(9,9,9)" stroke-width="0.50"/>
<path d="M61.82,153.41 C61.99,153.40 62.15,153.39 62.30,153.45 C62.45,153.51 62.59,153.66 62.70,153.77 C62.81,153.88 62.91,153.99 62.97,154.11 C63.03,154.23 63.08,154.38 63.07,154.51 C63.06,154.64 63.01,154.75 62.93,154.91 C62.85,155.06 62.72,155.28 62.62,155.44 C62.52,155.59 62.42,155.72 62.30,155.84 C62.18,155.96 62.03,156.12 61.90,156.16 C61.77,156.20 61.62,156.16 61.50,156.08 C61.38,156.00 61.26,155.83 61.18,155.68 C61.10,155.53 61.12,155.35 61.03,155.20 C60.94,155.05 60.74,154.95 60.63,154.80 C60.52,154.65 60.39,154.45 60.35,154.32 C60.31,154.19 60.33,154.11 60.39,154.01 C60.45,153.91 60.56,153.78 60.71,153.69 C60.86,153.60 61.07,153.54 61.26,153.49 C61.45,153.44 61.65,153.42 61.82,153.41 Z" fill="rgb(41,41,41)" stroke="rgb(1,1,1)" stroke-width="0.50"/>
<path d="M61.10,143.60 C62.83,143.53 64.43,143.40 65.90,144.00 C67.37,144.60 68.78,146.10 69.90,147.20 C71.02,148.30 71.98,149.37 72.60,150.60 C73.22,151.83 73.67,153.27 73.60,154.60 C73.53,155.93 72.95,157.05 72.20,158.60 C71.45,160.15 70.15,162.35 69.10,163.90 C68.05,165.45 67.10,166.70 65.90,167.90 C64.70,169.10 63.23,170.70 61.90,171.10 C60.57,171.50 59.10,171.10 57.90,170.30 C56.70,169.50 55.48,167.77 54.70,166.30 C53.92,164.83 54.12,162.97 53.20,161.50 C52.28,160.03 50.33,158.97 49.20,157.50 C48.07,156.03 46.80,154.02 46.40,152.70 C46.00,151.38 46.20,150.65 46.80,149.60 C47.40,148.55 48.55,147.27 50.00,146.40 C51.45,145.53 53.65,144.87 55.50,144.40 C57.35,143.93 59.37,143.67 61.10,143.60 Z" fill="none" stroke="#666" stroke-width="0.6"/>
</g>
<ellipse cx="61.80" cy="154.30" rx="6.00" ry="6.80" fill="#0e0e0e" opacity="0.90" filter="url(#f1_5)"/>
<ellipse cx="61.90" cy="154.30" rx="0.60" ry="0.60" fill="#aaa" filter="url(#f0_7)" opacity="0.85"/>
<path d="M167.10,154.80 C167.62,152.23 168.67,150.40 170.20,149.20 C171.73,148.00 174.05,147.60 176.30,147.60 C178.55,147.60 181.23,148.98 183.70,149.20 C186.17,149.42 188.23,149.30 191.10,148.90 C193.97,148.50 197.62,147.55 200.90,146.80 C204.18,146.05 207.92,144.78 210.80,144.40 C213.68,144.02 216.07,143.97 218.20,144.50 C220.33,145.03 222.40,146.05 223.60,147.60 C224.80,149.15 225.37,151.53 225.40,153.80 C225.43,156.07 224.72,158.95 223.80,161.20 C222.88,163.45 221.62,165.57 219.90,167.30 C218.18,169.03 215.83,170.68 213.50,171.60 C211.17,172.52 208.23,172.82 205.90,172.80 C203.57,172.78 201.57,171.92 199.50,171.50 C197.43,171.08 195.72,170.35 193.50,170.30 C191.28,170.25 188.87,170.98 186.20,171.20 C183.53,171.42 180.17,171.67 177.50,171.60 C174.83,171.53 171.93,171.97 170.20,170.80 C168.47,169.63 167.62,167.27 167.10,164.60 C166.58,161.93 166.58,157.37 167.10,154.80 Z" fill="#bababa" stroke="#808080" stroke-width="0.6" filter="url(#f0_4)"/>
<path d="M172.30,155.74 C172.73,153.63 173.59,152.13 174.84,151.14 C176.10,150.16 178.00,149.83 179.85,149.83 C181.69,149.83 183.89,150.97 185.91,151.14 C187.94,151.32 189.63,151.23 191.98,150.90 C194.33,150.57 197.33,149.79 200.02,149.18 C202.71,148.56 205.77,147.52 208.14,147.21 C210.50,146.89 212.45,146.85 214.20,147.29 C215.95,147.73 217.65,148.56 218.63,149.83 C219.62,151.10 220.08,153.06 220.11,154.92 C220.14,156.77 219.55,159.14 218.80,160.98 C218.04,162.83 217.01,164.56 215.60,165.99 C214.19,167.41 212.26,168.76 210.35,169.51 C208.44,170.26 206.03,170.51 204.12,170.50 C202.20,170.48 200.56,169.77 198.87,169.43 C197.18,169.09 195.77,168.49 193.95,168.45 C192.13,168.41 190.15,169.01 187.96,169.18 C185.78,169.36 183.02,169.57 180.83,169.51 C178.64,169.46 176.27,169.81 174.84,168.86 C173.42,167.90 172.73,165.96 172.30,163.77 C171.88,161.59 171.88,157.84 172.30,155.74 Z" fill="#a6a6a6" filter="url(#f0_5)"/>
<path d="M172.5,150.5 L176,156 L178,158.5" fill="none" stroke="#e4e4e4" stroke-width="1.3" filter="url(#f0_5)"/>
<path d="M176.5,154.5 L178.5,158.5 L179.5,162" fill="none" stroke="#e0e0e0" stroke-width="1.1" filter="url(#f0_5)"/>
<path d="M178,152 L175,158 L174,161" fill="none" stroke="#d4d4d4" stroke-width="0.9" filter="url(#f0_5)"/>
<path d="M181.50,152.50 C182.67,151.17 186.92,150.42 190.00,149.50 C193.08,148.58 196.83,147.72 200.00,147.00 C203.17,146.28 206.00,145.57 209.00,145.20 C212.00,144.83 215.63,144.45 218.00,144.80 C220.37,145.15 222.00,145.93 223.20,147.30 C224.40,148.67 225.10,150.88 225.20,153.00 C225.30,155.12 224.62,157.95 223.80,160.00 C222.98,162.05 221.93,163.75 220.30,165.30 C218.67,166.85 216.22,168.55 214.00,169.30 C211.78,170.05 209.08,170.10 207.00,169.80 C204.92,169.50 203.17,168.47 201.50,167.50 C199.83,166.53 198.92,165.08 197.00,164.00 C195.08,162.92 192.33,162.08 190.00,161.00 C187.67,159.92 184.42,158.92 183.00,157.50 C181.58,156.08 180.33,153.83 181.50,152.50 Z" fill="#3a3a3a" stroke="#1a1a1a" stroke-width="1.0" filter="url(#f0_4)"/>
<path d="M186.20,154.32 C187.13,153.33 190.53,152.78 193.00,152.10 C195.47,151.42 198.47,150.78 201.00,150.25 C203.53,149.72 205.80,149.19 208.20,148.92 C210.60,148.65 213.51,148.36 215.40,148.62 C217.29,148.88 218.60,149.46 219.56,150.47 C220.52,151.48 221.08,153.12 221.16,154.69 C221.24,156.26 220.69,158.35 220.04,159.87 C219.39,161.39 218.55,162.65 217.24,163.79 C215.93,164.94 213.97,166.20 212.20,166.75 C210.43,167.31 208.27,167.34 206.60,167.12 C204.93,166.90 203.53,166.14 202.20,165.42 C200.87,164.70 200.13,163.63 198.60,162.83 C197.07,162.03 194.87,161.41 193.00,160.61 C191.13,159.81 188.53,159.07 187.40,158.02 C186.27,156.97 185.27,155.31 186.20,154.32 Z" fill="#636363" filter="url(#f1)"/>
<ellipse cx="191" cy="155" rx="6" ry="2.6" fill="#a0a0a0" filter="url(#f1)"/>
<path d="M190.00,152.00 C190.67,151.33 196.83,149.83 200.00,149.00 C203.17,148.17 206.00,147.45 209.00,147.00 C212.00,146.55 215.75,146.05 218.00,146.30 C220.25,146.55 221.50,147.38 222.50,148.50 C223.50,149.62 223.92,151.33 224.00,153.00 C224.08,154.67 223.75,158.00 223.00,158.50 C222.25,159.00 221.00,157.00 219.50,156.00 C218.00,155.00 216.42,153.25 214.00,152.50 C211.58,151.75 208.00,151.42 205.00,151.50 C202.00,151.58 198.50,152.92 196.00,153.00 C193.50,153.08 189.33,152.67 190.00,152.00 Z" fill="#151515" filter="url(#f0_5)"/>
<path d="M167.86,155.16 C168.34,152.78 169.32,151.07 170.75,149.96 C172.17,148.84 174.33,148.47 176.42,148.47 C178.51,148.47 181.01,149.75 183.30,149.96 C185.59,150.16 187.52,150.05 190.18,149.68 C192.85,149.31 196.24,148.42 199.30,147.72 C202.35,147.03 205.82,145.85 208.50,145.49 C211.19,145.14 213.40,145.09 215.39,145.59 C217.37,146.08 219.29,147.03 220.41,148.47 C221.52,149.91 222.05,152.13 222.08,154.23 C222.11,156.34 221.45,159.02 220.59,161.12 C219.74,163.21 218.56,165.18 216.97,166.79 C215.37,168.40 213.19,169.94 211.01,170.79 C208.84,171.64 206.12,171.92 203.95,171.90 C201.78,171.89 199.92,171.08 198.00,170.69 C196.07,170.31 194.48,169.63 192.41,169.58 C190.35,169.53 188.11,170.21 185.63,170.42 C183.15,170.62 180.01,170.85 177.53,170.79 C175.06,170.73 172.36,171.13 170.75,170.04 C169.13,168.96 168.34,166.76 167.86,164.28 C167.38,161.80 167.38,157.55 167.86,155.16 Z" fill="none" stroke="#8c8c8c" stroke-width="0.45" opacity="0.8"/>
<path d="M168.63,155.53 C169.07,153.32 169.97,151.74 171.29,150.71 C172.61,149.68 174.60,149.34 176.54,149.34 C178.47,149.34 180.78,150.53 182.90,150.71 C185.02,150.90 186.80,150.80 189.27,150.45 C191.73,150.11 194.87,149.29 197.69,148.65 C200.52,148.00 203.73,146.91 206.21,146.58 C208.69,146.25 210.74,146.21 212.57,146.67 C214.41,147.13 216.18,148.00 217.22,149.34 C218.25,150.67 218.74,152.72 218.76,154.67 C218.79,156.62 218.18,159.10 217.39,161.03 C216.60,162.97 215.51,164.79 214.03,166.28 C212.56,167.77 210.54,169.19 208.53,169.98 C206.52,170.76 204.00,171.02 201.99,171.01 C199.99,170.99 198.27,170.25 196.49,169.89 C194.71,169.53 193.24,168.90 191.33,168.86 C189.42,168.81 187.35,169.45 185.05,169.63 C182.76,169.82 179.86,170.03 177.57,169.98 C175.28,169.92 172.78,170.29 171.29,169.29 C169.80,168.28 169.07,166.25 168.63,163.96 C168.18,161.66 168.18,157.74 168.63,155.53 Z" fill="none" stroke="#8c8c8c" stroke-width="0.45" opacity="0.8"/>
<path d="M169.50,155.94 C169.90,153.94 170.72,152.51 171.92,151.58 C173.11,150.64 174.92,150.33 176.67,150.33 C178.43,150.33 180.52,151.41 182.45,151.58 C184.37,151.75 185.98,151.65 188.22,151.34 C190.45,151.03 193.30,150.29 195.86,149.70 C198.42,149.12 201.34,148.13 203.58,147.83 C205.83,147.53 207.69,147.49 209.36,147.91 C211.02,148.33 212.63,149.12 213.57,150.33 C214.50,151.54 214.95,153.40 214.97,155.16 C215.00,156.93 214.44,159.18 213.72,160.94 C213.01,162.69 212.02,164.34 210.68,165.69 C209.34,167.05 207.51,168.33 205.69,169.05 C203.87,169.76 201.58,170.00 199.76,169.98 C197.94,169.97 196.38,169.29 194.77,168.97 C193.16,168.65 191.82,168.07 190.09,168.03 C188.36,168.00 186.48,168.57 184.40,168.74 C182.32,168.90 179.69,169.10 177.61,169.05 C175.53,169.00 173.27,169.33 171.92,168.42 C170.56,167.51 169.90,165.67 169.50,163.59 C169.09,161.51 169.09,157.95 169.50,155.94 Z" fill="none" stroke="#8c8c8c" stroke-width="0.45" opacity="0.8"/>
<path d="M184.35,152.95 C185.40,151.75 189.22,151.07 192.00,150.25 C194.78,149.43 198.15,148.65 201.00,148.00 C203.85,147.35 206.40,146.71 209.10,146.38 C211.80,146.05 215.07,145.71 217.20,146.02 C219.33,146.34 220.80,147.04 221.88,148.27 C222.96,149.50 223.59,151.50 223.68,153.40 C223.77,155.31 223.16,157.85 222.42,159.70 C221.69,161.54 220.74,163.07 219.27,164.47 C217.80,165.87 215.59,167.40 213.60,168.07 C211.60,168.75 209.18,168.79 207.30,168.52 C205.43,168.25 203.85,167.32 202.35,166.45 C200.85,165.58 200.03,164.28 198.30,163.30 C196.58,162.33 194.10,161.57 192.00,160.60 C189.90,159.62 186.97,158.72 185.70,157.45 C184.42,156.17 183.30,154.15 184.35,152.95 Z" fill="none" stroke="#2a2a2a" stroke-width="0.45" opacity="0.7"/>
<path d="M187.20,153.40 C188.13,152.33 191.53,151.73 194.00,151.00 C196.47,150.27 199.47,149.57 202.00,149.00 C204.53,148.43 206.80,147.85 209.20,147.56 C211.60,147.27 214.51,146.96 216.40,147.24 C218.29,147.52 219.60,148.15 220.56,149.24 C221.52,150.33 222.08,152.11 222.16,153.80 C222.24,155.49 221.69,157.76 221.04,159.40 C220.39,161.04 219.55,162.40 218.24,163.64 C216.93,164.88 214.97,166.24 213.20,166.84 C211.43,167.44 209.27,167.48 207.60,167.24 C205.93,167.00 204.53,166.17 203.20,165.40 C201.87,164.63 201.13,163.47 199.60,162.60 C198.07,161.73 195.87,161.07 194.00,160.20 C192.13,159.33 189.53,158.53 188.40,157.40 C187.27,156.27 186.27,154.47 187.20,153.40 Z" fill="none" stroke="#2a2a2a" stroke-width="0.45" opacity="0.7"/>
<path d="M190.62,153.94 C191.41,153.03 194.30,152.52 196.40,151.90 C198.50,151.28 201.05,150.69 203.20,150.20 C205.35,149.71 207.28,149.23 209.32,148.98 C211.36,148.73 213.83,148.47 215.44,148.70 C217.05,148.94 218.16,149.47 218.98,150.40 C219.79,151.33 220.27,152.84 220.34,154.28 C220.40,155.72 219.94,157.65 219.38,159.04 C218.83,160.43 218.11,161.59 217.00,162.64 C215.89,163.70 214.23,164.85 212.72,165.36 C211.21,165.87 209.38,165.91 207.96,165.70 C206.54,165.50 205.35,164.80 204.22,164.14 C203.09,163.48 202.46,162.50 201.16,161.76 C199.86,161.02 197.99,160.46 196.40,159.72 C194.81,158.98 192.60,158.30 191.64,157.34 C190.68,156.38 189.83,154.85 190.62,153.94 Z" fill="none" stroke="#2a2a2a" stroke-width="0.45" opacity="0.7"/>
<path d="M194.32,154.53 C194.97,153.79 197.30,153.38 199.00,152.88 C200.70,152.37 202.76,151.89 204.50,151.50 C206.24,151.11 207.80,150.71 209.45,150.51 C211.10,150.31 213.10,150.10 214.40,150.29 C215.70,150.48 216.60,150.91 217.26,151.67 C217.92,152.42 218.30,153.64 218.36,154.80 C218.41,155.96 218.04,157.52 217.59,158.65 C217.14,159.78 216.56,160.71 215.67,161.56 C214.77,162.42 213.42,163.35 212.20,163.77 C210.98,164.18 209.50,164.21 208.35,164.04 C207.20,163.88 206.24,163.31 205.32,162.78 C204.41,162.24 203.90,161.45 202.85,160.85 C201.80,160.25 200.28,159.80 199.00,159.20 C197.72,158.60 195.93,158.05 195.15,157.28 C194.37,156.50 193.68,155.26 194.32,154.53 Z" fill="none" stroke="#2a2a2a" stroke-width="0.45" opacity="0.7"/>
<circle cx="212" cy="155.2" r="1.1" fill="#c8c8c8" filter="url(#f0_5)"/>
<clipPath id="clpb1"><path d="M321.60,43.50 C323.18,43.50 325.73,43.58 327.60,44.30 C329.47,45.02 331.07,46.35 332.80,47.80 C334.53,49.25 336.70,51.27 338.00,53.00 C339.30,54.73 340.07,56.47 340.60,58.20 C341.13,59.93 341.63,61.67 341.20,63.40 C340.77,65.13 339.53,67.02 338.00,68.60 C336.47,70.18 334.17,71.90 332.00,72.90 C329.83,73.90 327.17,74.38 325.00,74.60 C322.83,74.82 320.87,74.77 319.00,74.20 C317.13,73.63 315.03,72.57 313.80,71.20 C312.57,69.83 312.03,68.03 311.60,66.00 C311.17,63.97 311.12,61.17 311.20,59.00 C311.28,56.83 311.52,55.02 312.10,53.00 C312.68,50.98 313.70,48.35 314.70,46.90 C315.70,45.45 316.95,44.87 318.10,44.30 C319.25,43.73 320.02,43.50 321.60,43.50 Z"/></clipPath>
<g filter="url(#f0_4)">
<path d="M321.60,43.50 C323.18,43.50 325.73,43.58 327.60,44.30 C329.47,45.02 331.07,46.35 332.80,47.80 C334.53,49.25 336.70,51.27 338.00,53.00 C339.30,54.73 340.07,56.47 340.60,58.20 C341.13,59.93 341.63,61.67 341.20,63.40 C340.77,65.13 339.53,67.02 338.00,68.60 C336.47,70.18 334.17,71.90 332.00,72.90 C329.83,73.90 327.17,74.38 325.00,74.60 C322.83,74.82 320.87,74.77 319.00,74.20 C317.13,73.63 315.03,72.57 313.80,71.20 C312.57,69.83 312.03,68.03 311.60,66.00 C311.17,63.97 311.12,61.17 311.20,59.00 C311.28,56.83 311.52,55.02 312.10,53.00 C312.68,50.98 313.70,48.35 314.70,46.90 C315.70,45.45 316.95,44.87 318.10,44.30 C319.25,43.73 320.02,43.50 321.60,43.50 Z" fill="rgb(185,185,185)" stroke="rgb(130,130,130)" stroke-width="0.50"/>
<path d="M321.34,44.56 C322.82,44.56 325.20,44.64 326.95,45.31 C328.70,45.98 330.19,47.23 331.82,48.58 C333.44,49.94 335.47,51.83 336.68,53.45 C337.90,55.07 338.62,56.69 339.12,58.32 C339.61,59.94 340.08,61.56 339.68,63.18 C339.27,64.80 338.12,66.57 336.68,68.05 C335.25,69.53 333.10,71.14 331.07,72.07 C329.04,73.01 326.55,73.46 324.52,73.66 C322.49,73.86 320.65,73.82 318.90,73.29 C317.16,72.76 315.19,71.76 314.04,70.48 C312.88,69.20 312.38,67.52 311.98,65.61 C311.57,63.71 311.53,61.09 311.60,59.06 C311.68,57.04 311.90,55.34 312.45,53.45 C312.99,51.56 313.94,49.10 314.88,47.74 C315.82,46.39 316.99,45.84 318.06,45.31 C319.14,44.78 319.85,44.56 321.34,44.56 Z" fill="rgb(133,133,133)" stroke="rgb(78,78,78)" stroke-width="0.50"/>
<path d="M321.07,45.62 C322.45,45.62 324.67,45.69 326.30,46.32 C327.93,46.94 329.32,48.10 330.83,49.37 C332.34,50.63 334.23,52.39 335.36,53.90 C336.50,55.41 337.17,56.92 337.63,58.43 C338.09,59.94 338.53,61.45 338.15,62.96 C337.78,64.47 336.70,66.11 335.36,67.49 C334.03,68.87 332.02,70.37 330.14,71.24 C328.25,72.11 325.92,72.53 324.04,72.72 C322.15,72.91 320.43,72.87 318.81,72.37 C317.18,71.88 315.35,70.95 314.28,69.76 C313.20,68.57 312.74,67.00 312.36,65.23 C311.98,63.46 311.94,61.02 312.01,59.13 C312.08,57.24 312.29,55.66 312.79,53.90 C313.30,52.14 314.19,49.85 315.06,48.58 C315.93,47.32 317.02,46.81 318.02,46.32 C319.03,45.82 319.69,45.62 321.07,45.62 Z" fill="rgb(103,103,103)" stroke="rgb(48,48,48)" stroke-width="0.50"/>
<path d="M320.81,46.68 C322.09,46.68 324.15,46.75 325.65,47.33 C327.16,47.91 328.45,48.98 329.85,50.15 C331.25,51.32 333.00,52.95 334.05,54.35 C335.10,55.75 335.71,57.15 336.15,58.55 C336.58,59.95 336.98,61.35 336.63,62.74 C336.28,64.14 335.28,65.66 334.05,66.94 C332.81,68.22 330.95,69.61 329.20,70.41 C327.45,71.22 325.30,71.61 323.55,71.78 C321.80,71.96 320.22,71.92 318.71,71.46 C317.20,71.00 315.51,70.14 314.51,69.04 C313.52,67.94 313.09,66.48 312.74,64.84 C312.39,63.20 312.35,60.94 312.41,59.19 C312.48,57.44 312.67,55.98 313.14,54.35 C313.61,52.72 314.43,50.60 315.24,49.43 C316.05,48.26 317.06,47.79 317.98,47.33 C318.91,46.87 319.53,46.68 320.81,46.68 Z" fill="rgb(94,94,94)" stroke="rgb(39,39,39)" stroke-width="0.50"/>
<path d="M320.55,47.74 C321.72,47.74 323.62,47.80 325.00,48.34 C326.39,48.87 327.58,49.86 328.87,50.94 C330.15,52.01 331.76,53.51 332.73,54.80 C333.69,56.09 334.26,57.38 334.66,58.66 C335.06,59.95 335.43,61.24 335.11,62.53 C334.78,63.81 333.87,65.21 332.73,66.39 C331.59,67.56 329.88,68.84 328.27,69.58 C326.66,70.33 324.68,70.68 323.07,70.85 C321.46,71.01 320.00,70.97 318.61,70.55 C317.23,70.13 315.67,69.34 314.75,68.32 C313.84,67.30 313.44,65.97 313.12,64.46 C312.80,62.95 312.76,60.87 312.82,59.26 C312.88,57.65 313.06,56.30 313.49,54.80 C313.92,53.30 314.68,51.35 315.42,50.27 C316.16,49.19 317.09,48.76 317.95,48.34 C318.80,47.92 319.37,47.74 320.55,47.74 Z" fill="rgb(87,87,87)" stroke="rgb(32,32,32)" stroke-width="0.50"/>
<path d="M320.28,48.80 C321.36,48.80 323.09,48.86 324.35,49.35 C325.62,49.83 326.71,50.74 327.88,51.72 C329.06,52.71 330.53,54.07 331.41,55.25 C332.29,56.43 332.81,57.60 333.18,58.78 C333.54,59.95 333.88,61.13 333.58,62.31 C333.29,63.48 332.45,64.76 331.41,65.84 C330.37,66.91 328.81,68.08 327.34,68.75 C325.87,69.43 324.06,69.76 322.59,69.91 C321.12,70.05 319.78,70.02 318.52,69.64 C317.25,69.25 315.83,68.53 314.99,67.60 C314.15,66.67 313.79,65.45 313.50,64.07 C313.20,62.69 313.17,60.79 313.22,59.32 C313.28,57.85 313.44,56.62 313.84,55.25 C314.23,53.88 314.92,52.09 315.60,51.11 C316.28,50.13 317.13,49.73 317.91,49.35 C318.69,48.96 319.21,48.80 320.28,48.80 Z" fill="rgb(81,81,81)" stroke="rgb(26,26,26)" stroke-width="0.50"/>
<path d="M320.02,49.86 C320.99,49.86 322.56,49.92 323.70,50.36 C324.85,50.80 325.83,51.61 326.90,52.51 C327.96,53.40 329.29,54.64 330.09,55.70 C330.89,56.76 331.36,57.83 331.69,58.89 C332.02,59.96 332.32,61.02 332.06,62.09 C331.79,63.15 331.03,64.31 330.09,65.28 C329.15,66.26 327.74,67.31 326.41,67.92 C325.08,68.54 323.44,68.84 322.11,68.97 C320.78,69.10 319.57,69.07 318.42,68.72 C317.27,68.37 315.98,67.72 315.23,66.88 C314.47,66.04 314.14,64.93 313.88,63.69 C313.61,62.44 313.58,60.72 313.63,59.39 C313.68,58.05 313.82,56.94 314.18,55.70 C314.54,54.46 315.17,52.84 315.78,51.95 C316.39,51.06 317.16,50.70 317.87,50.36 C318.58,50.01 319.05,49.86 320.02,49.86 Z" fill="rgb(75,75,75)" stroke="rgb(20,20,20)" stroke-width="0.50"/>
<path d="M319.75,50.92 C320.63,50.92 322.03,50.97 323.06,51.36 C324.08,51.76 324.96,52.49 325.92,53.29 C326.87,54.09 328.06,55.20 328.77,56.15 C329.49,57.10 329.91,58.06 330.21,59.01 C330.50,59.96 330.77,60.92 330.53,61.87 C330.30,62.82 329.62,63.86 328.77,64.73 C327.93,65.60 326.67,66.55 325.48,67.09 C324.28,67.64 322.82,67.91 321.62,68.03 C320.43,68.15 319.35,68.12 318.32,67.81 C317.30,67.50 316.14,66.91 315.47,66.16 C314.79,65.41 314.49,64.42 314.25,63.30 C314.02,62.18 313.99,60.64 314.03,59.45 C314.08,58.26 314.21,57.26 314.53,56.15 C314.85,55.04 315.41,53.59 315.96,52.80 C316.51,52.00 317.20,51.68 317.83,51.36 C318.46,51.05 318.88,50.92 319.75,50.92 Z" fill="rgb(69,69,69)" stroke="rgb(14,14,14)" stroke-width="0.50"/>
<path d="M319.49,51.99 C320.26,51.99 321.50,52.03 322.41,52.37 C323.31,52.72 324.09,53.37 324.93,54.07 C325.77,54.78 326.83,55.76 327.46,56.60 C328.09,57.44 328.46,58.28 328.72,59.13 C328.98,59.97 329.22,60.81 329.01,61.65 C328.80,62.49 328.20,63.41 327.46,64.18 C326.71,64.95 325.60,65.78 324.54,66.27 C323.49,66.75 322.20,66.99 321.14,67.09 C320.09,67.20 319.14,67.17 318.23,66.90 C317.32,66.62 316.30,66.10 315.70,65.44 C315.10,64.78 314.84,63.90 314.63,62.91 C314.42,61.93 314.40,60.57 314.44,59.51 C314.48,58.46 314.59,57.58 314.88,56.60 C315.16,55.62 315.65,54.34 316.14,53.64 C316.63,52.93 317.23,52.65 317.79,52.37 C318.35,52.10 318.72,51.99 319.49,51.99 Z" fill="rgb(63,63,63)" stroke="rgb(8,8,8)" stroke-width="0.50"/>
<path d="M319.23,53.05 C319.90,53.05 320.97,53.08 321.76,53.38 C322.54,53.69 323.22,54.25 323.95,54.86 C324.68,55.47 325.59,56.32 326.14,57.05 C326.69,57.78 327.01,58.51 327.24,59.24 C327.46,59.97 327.67,60.70 327.49,61.43 C327.31,62.16 326.79,62.96 326.14,63.62 C325.49,64.29 324.52,65.02 323.61,65.44 C322.70,65.86 321.57,66.06 320.66,66.15 C319.75,66.24 318.92,66.22 318.13,65.98 C317.35,65.75 316.46,65.30 315.94,64.72 C315.42,64.14 315.20,63.39 315.01,62.53 C314.83,61.67 314.81,60.49 314.84,59.58 C314.88,58.67 314.98,57.90 315.22,57.05 C315.47,56.20 315.90,55.09 316.32,54.48 C316.74,53.87 317.27,53.62 317.75,53.38 C318.24,53.14 318.56,53.05 319.23,53.05 Z" fill="rgb(57,57,57)" stroke="rgb(2,2,2)" stroke-width="0.50"/>
<path d="M318.96,54.11 C319.53,54.11 320.44,54.14 321.11,54.39 C321.77,54.65 322.35,55.12 322.96,55.64 C323.58,56.16 324.36,56.88 324.82,57.50 C325.29,58.12 325.56,58.74 325.75,59.36 C325.94,59.98 326.12,60.60 325.96,61.21 C325.81,61.83 325.37,62.51 324.82,63.07 C324.27,63.64 323.45,64.25 322.68,64.61 C321.90,64.96 320.95,65.14 320.18,65.21 C319.40,65.29 318.70,65.27 318.04,65.07 C317.37,64.87 316.62,64.49 316.18,64.00 C315.74,63.51 315.55,62.87 315.39,62.14 C315.24,61.42 315.22,60.42 315.25,59.64 C315.28,58.87 315.36,58.22 315.57,57.50 C315.78,56.78 316.14,55.84 316.50,55.32 C316.86,54.80 317.30,54.60 317.71,54.39 C318.12,54.19 318.40,54.11 318.96,54.11 Z" fill="rgb(52,52,52)" stroke="rgb(0,0,0)" stroke-width="0.50"/>
<path d="M318.70,55.17 C319.16,55.17 319.91,55.19 320.46,55.40 C321.00,55.61 321.47,56.00 321.98,56.43 C322.49,56.85 323.12,57.44 323.50,57.95 C323.88,58.46 324.11,58.97 324.26,59.47 C324.42,59.98 324.57,60.49 324.44,61.00 C324.31,61.50 323.95,62.05 323.50,62.52 C323.05,62.98 322.38,63.48 321.75,63.78 C321.11,64.07 320.33,64.21 319.70,64.28 C319.06,64.34 318.49,64.32 317.94,64.16 C317.39,63.99 316.78,63.68 316.42,63.28 C316.06,62.88 315.90,62.35 315.77,61.76 C315.65,61.16 315.63,60.34 315.65,59.71 C315.68,59.07 315.75,58.54 315.92,57.95 C316.09,57.36 316.39,56.59 316.68,56.16 C316.97,55.74 317.34,55.57 317.68,55.40 C318.01,55.24 318.24,55.17 318.70,55.17 Z" fill="rgb(47,47,47)" stroke="rgb(0,0,0)" stroke-width="0.50"/>
<path d="M318.44,56.23 C318.80,56.23 319.38,56.25 319.81,56.41 C320.24,56.58 320.60,56.88 321.00,57.21 C321.39,57.54 321.89,58.00 322.19,58.40 C322.48,58.80 322.66,59.19 322.78,59.59 C322.90,59.98 323.02,60.38 322.92,60.78 C322.82,61.17 322.54,61.60 322.19,61.97 C321.84,62.33 321.31,62.72 320.81,62.95 C320.32,63.18 319.71,63.29 319.21,63.34 C318.72,63.39 318.27,63.38 317.84,63.25 C317.42,63.12 316.94,62.87 316.65,62.56 C316.37,62.25 316.25,61.84 316.15,61.37 C316.05,60.91 316.04,60.27 316.06,59.77 C316.08,59.28 316.13,58.86 316.27,58.40 C316.40,57.94 316.63,57.34 316.86,57.01 C317.09,56.67 317.37,56.54 317.64,56.41 C317.90,56.28 318.08,56.23 318.44,56.23 Z" fill="rgb(42,42,42)" stroke="rgb(0,0,0)" stroke-width="0.50"/>
<path d="M318.17,57.29 C318.43,57.29 318.85,57.30 319.16,57.42 C319.47,57.54 319.73,57.76 320.01,58.00 C320.30,58.23 320.65,58.57 320.87,58.85 C321.08,59.13 321.21,59.42 321.30,59.70 C321.38,59.99 321.46,60.27 321.39,60.56 C321.32,60.84 321.12,61.15 320.87,61.41 C320.62,61.67 320.24,61.95 319.88,62.12 C319.53,62.28 319.09,62.36 318.73,62.40 C318.38,62.43 318.05,62.43 317.75,62.33 C317.44,62.24 317.09,62.06 316.89,61.84 C316.69,61.62 316.60,61.32 316.53,60.99 C316.46,60.65 316.45,60.19 316.46,59.84 C316.48,59.48 316.52,59.18 316.61,58.85 C316.71,58.52 316.88,58.09 317.04,57.85 C317.20,57.61 317.41,57.51 317.60,57.42 C317.79,57.33 317.91,57.29 318.17,57.29 Z" fill="rgb(38,38,38)" stroke="rgb(0,0,0)" stroke-width="0.50"/>
<path d="M317.91,58.35 C318.07,58.35 318.32,58.36 318.51,58.43 C318.70,58.50 318.86,58.64 319.03,58.78 C319.20,58.92 319.42,59.13 319.55,59.30 C319.68,59.47 319.76,59.65 319.81,59.82 C319.86,59.99 319.91,60.17 319.87,60.34 C319.83,60.51 319.70,60.70 319.55,60.86 C319.40,61.02 319.17,61.19 318.95,61.29 C318.73,61.39 318.47,61.44 318.25,61.46 C318.03,61.48 317.84,61.48 317.65,61.42 C317.46,61.36 317.25,61.26 317.13,61.12 C317.01,60.98 316.95,60.80 316.91,60.60 C316.87,60.40 316.86,60.12 316.87,59.90 C316.88,59.68 316.90,59.50 316.96,59.30 C317.02,59.10 317.12,58.83 317.22,58.69 C317.32,58.55 317.44,58.49 317.56,58.43 C317.68,58.37 317.75,58.35 317.91,58.35 Z" fill="rgb(34,34,34)" stroke="rgb(0,0,0)" stroke-width="0.50"/>
<path d="M321.60,43.50 C323.18,43.50 325.73,43.58 327.60,44.30 C329.47,45.02 331.07,46.35 332.80,47.80 C334.53,49.25 336.70,51.27 338.00,53.00 C339.30,54.73 340.07,56.47 340.60,58.20 C341.13,59.93 341.63,61.67 341.20,63.40 C340.77,65.13 339.53,67.02 338.00,68.60 C336.47,70.18 334.17,71.90 332.00,72.90 C329.83,73.90 327.17,74.38 325.00,74.60 C322.83,74.82 320.87,74.77 319.00,74.20 C317.13,73.63 315.03,72.57 313.80,71.20 C312.57,69.83 312.03,68.03 311.60,66.00 C311.17,63.97 311.12,61.17 311.20,59.00 C311.28,56.83 311.52,55.02 312.10,53.00 C312.68,50.98 313.70,48.35 314.70,46.90 C315.70,45.45 316.95,44.87 318.10,44.30 C319.25,43.73 320.02,43.50 321.60,43.50 Z" fill="none" stroke="#666" stroke-width="0.6"/>
</g>
<ellipse cx="321.60" cy="60.00" rx="0.80" ry="2.40" fill="#d8d8d8" filter="url(#f0_7)" opacity="0.85"/>
<path d="M341.00,57.50 C341.42,57.92 342.95,59.08 343.50,60.00 C344.05,60.92 344.47,61.92 344.30,63.00 C344.13,64.08 343.05,65.75 342.50,66.50 C341.95,67.25 341.25,67.33 341.00,67.50 " fill="#d2d2d2" stroke="#6a6a6a" stroke-width="0.6"/>
<clipPath id="clpb2"><path d="M427.70,42.10 C429.68,42.02 432.73,42.47 435.00,43.00 C437.27,43.53 439.48,44.32 441.30,45.30 C443.12,46.28 444.83,47.08 445.90,48.90 C446.97,50.72 447.48,53.47 447.70,56.20 C447.92,58.93 447.82,62.87 447.20,65.30 C446.58,67.73 445.43,69.35 444.00,70.80 C442.57,72.25 440.87,73.40 438.60,74.00 C436.33,74.60 432.98,74.48 430.40,74.40 C427.82,74.32 424.92,74.40 423.10,73.50 C421.28,72.60 420.25,70.97 419.50,69.00 C418.75,67.03 418.75,64.28 418.60,61.70 C418.45,59.12 418.30,55.93 418.60,53.50 C418.90,51.07 419.65,48.77 420.40,47.10 C421.15,45.43 421.88,44.33 423.10,43.50 C424.32,42.67 425.72,42.18 427.70,42.10 Z"/></clipPath>
<g filter="url(#f0_4)">
<path d="M427.70,42.10 C429.68,42.02 432.73,42.47 435.00,43.00 C437.27,43.53 439.48,44.32 441.30,45.30 C443.12,46.28 444.83,47.08 445.90,48.90 C446.97,50.72 447.48,53.47 447.70,56.20 C447.92,58.93 447.82,62.87 447.20,65.30 C446.58,67.73 445.43,69.35 444.00,70.80 C442.57,72.25 440.87,73.40 438.60,74.00 C436.33,74.60 432.98,74.48 430.40,74.40 C427.82,74.32 424.92,74.40 423.10,73.50 C421.28,72.60 420.25,70.97 419.50,69.00 C418.75,67.03 418.75,64.28 418.60,61.70 C418.45,59.12 418.30,55.93 418.60,53.50 C418.90,51.07 419.65,48.77 420.40,47.10 C421.15,45.43 421.88,44.33 423.10,43.50 C424.32,42.67 425.72,42.18 427.70,42.10 Z" fill="rgb(185,185,185)" stroke="rgb(130,130,130)" stroke-width="0.50"/>
<path d="M427.72,43.25 C429.58,43.17 432.43,43.59 434.55,44.09 C436.67,44.59 438.75,45.32 440.44,46.24 C442.14,47.17 443.75,47.91 444.75,49.61 C445.75,51.31 446.23,53.89 446.43,56.44 C446.64,59.00 446.54,62.68 445.97,64.96 C445.39,67.24 444.31,68.75 442.97,70.11 C441.63,71.46 440.04,72.54 437.92,73.10 C435.80,73.66 432.66,73.55 430.25,73.47 C427.83,73.40 425.11,73.47 423.42,72.63 C421.72,71.79 420.75,70.26 420.05,68.42 C419.34,66.58 419.34,64.01 419.20,61.59 C419.06,59.17 418.92,56.19 419.20,53.92 C419.49,51.64 420.19,49.49 420.89,47.93 C421.59,46.37 422.28,45.34 423.42,44.56 C424.55,43.78 425.86,43.33 427.72,43.25 Z" fill="rgb(133,133,133)" stroke="rgb(78,78,78)" stroke-width="0.50"/>
<path d="M427.74,44.40 C429.47,44.33 432.12,44.72 434.10,45.19 C436.08,45.65 438.01,46.33 439.59,47.19 C441.17,48.05 442.67,48.74 443.60,50.33 C444.53,51.91 444.98,54.31 445.17,56.69 C445.36,59.07 445.27,62.50 444.73,64.62 C444.19,66.74 443.19,68.15 441.94,69.41 C440.69,70.67 439.21,71.68 437.24,72.20 C435.26,72.72 432.34,72.62 430.09,72.55 C427.84,72.48 425.31,72.55 423.73,71.76 C422.15,70.98 421.25,69.56 420.59,67.84 C419.94,66.13 419.94,63.73 419.81,61.48 C419.68,59.23 419.55,56.46 419.81,54.34 C420.07,52.22 420.72,50.21 421.38,48.76 C422.03,47.31 422.67,46.35 423.73,45.62 C424.79,44.90 426.01,44.47 427.74,44.40 Z" fill="rgb(103,103,103)" stroke="rgb(48,48,48)" stroke-width="0.50"/>
<path d="M427.76,45.55 C429.36,45.48 431.82,45.85 433.65,46.28 C435.48,46.71 437.27,47.34 438.74,48.13 C440.20,48.93 441.59,49.57 442.45,51.04 C443.31,52.51 443.73,54.73 443.90,56.93 C444.08,59.14 443.99,62.31 443.50,64.28 C443.00,66.24 442.07,67.55 440.91,68.72 C439.76,69.89 438.39,70.82 436.56,71.30 C434.73,71.78 432.02,71.69 429.94,71.62 C427.85,71.56 425.51,71.62 424.05,70.90 C422.58,70.17 421.74,68.85 421.14,67.26 C420.53,65.68 420.53,63.46 420.41,61.37 C420.29,59.29 420.17,56.72 420.41,54.75 C420.65,52.79 421.26,50.93 421.87,49.59 C422.47,48.24 423.06,47.35 424.05,46.68 C425.03,46.01 426.16,45.62 427.76,45.55 Z" fill="rgb(94,94,94)" stroke="rgb(39,39,39)" stroke-width="0.50"/>
<path d="M427.78,46.70 C429.25,46.64 431.52,46.98 433.20,47.37 C434.88,47.77 436.53,48.35 437.88,49.08 C439.23,49.81 440.50,50.40 441.30,51.75 C442.09,53.10 442.47,55.15 442.63,57.18 C442.80,59.21 442.72,62.13 442.26,63.94 C441.80,65.74 440.95,66.95 439.89,68.02 C438.82,69.10 437.56,69.95 435.87,70.40 C434.19,70.85 431.70,70.76 429.78,70.70 C427.86,70.64 425.71,70.70 424.36,70.03 C423.01,69.36 422.24,68.15 421.69,66.69 C421.13,65.22 421.13,63.18 421.02,61.26 C420.91,59.34 420.79,56.98 421.02,55.17 C421.24,53.36 421.80,51.66 422.35,50.42 C422.91,49.18 423.46,48.36 424.36,47.74 C425.26,47.12 426.30,46.76 427.78,46.70 Z" fill="rgb(87,87,87)" stroke="rgb(32,32,32)" stroke-width="0.50"/>
<path d="M427.80,47.85 C429.14,47.80 431.21,48.10 432.75,48.46 C434.29,48.83 435.79,49.36 437.03,50.02 C438.26,50.69 439.42,51.24 440.15,52.47 C440.87,53.70 441.22,55.57 441.37,57.42 C441.51,59.28 441.45,61.95 441.03,63.60 C440.61,65.25 439.83,66.34 438.86,67.33 C437.88,68.31 436.73,69.09 435.19,69.50 C433.65,69.91 431.38,69.83 429.63,69.77 C427.88,69.71 425.91,69.77 424.68,69.16 C423.44,68.55 422.74,67.44 422.23,66.11 C421.72,64.77 421.72,62.91 421.62,61.15 C421.52,59.40 421.42,57.24 421.62,55.59 C421.82,53.94 422.33,52.38 422.84,51.25 C423.35,50.12 423.85,49.37 424.68,48.80 C425.50,48.24 426.45,47.91 427.80,47.85 Z" fill="rgb(81,81,81)" stroke="rgb(26,26,26)" stroke-width="0.50"/>
<path d="M427.82,49.00 C429.03,48.95 430.91,49.23 432.30,49.56 C433.69,49.88 435.05,50.37 436.17,50.97 C437.29,51.57 438.34,52.07 439.00,53.18 C439.65,54.30 439.97,55.99 440.10,57.67 C440.23,59.34 440.17,61.76 439.79,63.26 C439.42,64.75 438.71,65.74 437.83,66.63 C436.95,67.52 435.90,68.23 434.51,68.60 C433.12,68.97 431.06,68.90 429.47,68.85 C427.89,68.79 426.11,68.85 424.99,68.29 C423.87,67.74 423.24,66.74 422.78,65.53 C422.32,64.32 422.32,62.63 422.23,61.04 C422.13,59.46 422.04,57.50 422.23,56.01 C422.41,54.51 422.87,53.10 423.33,52.08 C423.79,51.05 424.24,50.38 424.99,49.86 C425.74,49.35 426.60,49.06 427.82,49.00 Z" fill="rgb(75,75,75)" stroke="rgb(20,20,20)" stroke-width="0.50"/>
<path d="M427.83,50.16 C428.93,50.11 430.60,50.36 431.85,50.65 C433.10,50.94 434.32,51.37 435.31,51.91 C436.31,52.46 437.26,52.90 437.84,53.89 C438.43,54.89 438.72,56.41 438.83,57.91 C438.95,59.41 438.90,61.58 438.56,62.91 C438.22,64.25 437.59,65.14 436.80,65.94 C436.01,66.74 435.08,67.37 433.83,67.70 C432.58,68.03 430.74,67.97 429.32,67.92 C427.90,67.87 426.30,67.92 425.31,67.42 C424.31,66.93 423.74,66.03 423.32,64.95 C422.91,63.87 422.91,62.36 422.83,60.94 C422.75,59.51 422.67,57.76 422.83,56.42 C423.00,55.09 423.41,53.82 423.82,52.91 C424.23,51.99 424.64,51.38 425.31,50.92 C425.97,50.47 426.74,50.20 427.83,50.16 Z" fill="rgb(69,69,69)" stroke="rgb(14,14,14)" stroke-width="0.50"/>
<path d="M427.85,51.31 C428.82,51.27 430.30,51.48 431.40,51.74 C432.50,52.00 433.58,52.38 434.46,52.86 C435.34,53.34 436.18,53.73 436.69,54.61 C437.21,55.49 437.46,56.83 437.57,58.15 C437.67,59.48 437.63,61.39 437.33,62.57 C437.03,63.76 436.47,64.54 435.77,65.25 C435.08,65.95 434.25,66.51 433.15,66.80 C432.05,67.09 430.42,67.03 429.17,66.99 C427.91,66.95 426.50,66.99 425.62,66.56 C424.74,66.12 424.24,65.33 423.87,64.37 C423.51,63.42 423.51,62.08 423.43,60.83 C423.36,59.57 423.29,58.02 423.43,56.84 C423.58,55.66 423.94,54.54 424.31,53.73 C424.67,52.92 425.03,52.39 425.62,51.99 C426.21,51.58 426.89,51.35 427.85,51.31 Z" fill="rgb(63,63,63)" stroke="rgb(8,8,8)" stroke-width="0.50"/>
<path d="M427.87,52.46 C428.71,52.42 429.99,52.61 430.95,52.84 C431.91,53.06 432.84,53.39 433.61,53.80 C434.37,54.22 435.09,54.56 435.54,55.32 C435.99,56.09 436.21,57.25 436.30,58.40 C436.39,59.55 436.35,61.21 436.09,62.23 C435.83,63.26 435.35,63.94 434.74,64.55 C434.14,65.16 433.42,65.65 432.47,65.90 C431.51,66.15 430.10,66.10 429.01,66.07 C427.92,66.03 426.70,66.07 425.94,65.69 C425.17,65.31 424.73,64.62 424.42,63.79 C424.10,62.96 424.10,61.81 424.04,60.72 C423.98,59.63 423.91,58.29 424.04,57.26 C424.17,56.24 424.48,55.27 424.80,54.56 C425.11,53.86 425.42,53.40 425.94,53.05 C426.45,52.70 427.04,52.49 427.87,52.46 Z" fill="rgb(57,57,57)" stroke="rgb(2,2,2)" stroke-width="0.50"/>
<path d="M427.89,53.61 C428.60,53.58 429.69,53.74 430.50,53.93 C431.31,54.12 432.10,54.40 432.75,54.75 C433.40,55.10 434.01,55.39 434.39,56.04 C434.77,56.68 434.96,57.67 435.04,58.64 C435.11,59.62 435.08,61.02 434.86,61.89 C434.64,62.76 434.23,63.34 433.71,63.86 C433.20,64.38 432.60,64.79 431.79,65.00 C430.98,65.21 429.78,65.17 428.86,65.14 C427.93,65.11 426.90,65.14 426.25,64.82 C425.60,64.50 425.23,63.92 424.96,63.21 C424.70,62.51 424.70,61.53 424.64,60.61 C424.59,59.68 424.54,58.55 424.64,57.68 C424.75,56.81 425.02,55.99 425.29,55.39 C425.55,54.80 425.82,54.40 426.25,54.11 C426.68,53.81 427.18,53.64 427.89,53.61 Z" fill="rgb(52,52,52)" stroke="rgb(0,0,0)" stroke-width="0.50"/>
<path d="M427.91,54.76 C428.49,54.73 429.39,54.87 430.05,55.02 C430.71,55.18 431.36,55.41 431.89,55.70 C432.43,55.98 432.93,56.22 433.24,56.75 C433.55,57.28 433.71,58.09 433.77,58.89 C433.83,59.69 433.80,60.84 433.62,61.55 C433.44,62.26 433.11,62.74 432.69,63.16 C432.27,63.59 431.77,63.92 431.10,64.10 C430.44,64.28 429.46,64.24 428.70,64.22 C427.95,64.19 427.10,64.22 426.56,63.95 C426.03,63.69 425.73,63.21 425.51,62.64 C425.29,62.06 425.29,61.25 425.25,60.50 C425.20,59.74 425.16,58.81 425.25,58.10 C425.34,57.38 425.55,56.71 425.77,56.22 C425.99,55.73 426.21,55.41 426.56,55.17 C426.92,54.92 427.33,54.78 427.91,54.76 Z" fill="rgb(47,47,47)" stroke="rgb(0,0,0)" stroke-width="0.50"/>
<path d="M427.93,55.91 C428.38,55.89 429.08,55.99 429.60,56.11 C430.12,56.24 430.62,56.42 431.04,56.64 C431.46,56.86 431.85,57.05 432.09,57.46 C432.34,57.88 432.45,58.51 432.50,59.13 C432.55,59.76 432.53,60.66 432.39,61.21 C432.25,61.77 431.98,62.14 431.66,62.47 C431.33,62.80 430.94,63.06 430.42,63.20 C429.90,63.34 429.14,63.31 428.55,63.29 C427.96,63.27 427.30,63.29 426.88,63.09 C426.46,62.88 426.23,62.51 426.06,62.06 C425.89,61.61 425.89,60.98 425.85,60.39 C425.82,59.80 425.78,59.07 425.85,58.51 C425.92,57.96 426.09,57.43 426.26,57.05 C426.43,56.67 426.60,56.42 426.88,56.23 C427.16,56.04 427.48,55.93 427.93,55.91 Z" fill="rgb(42,42,42)" stroke="rgb(0,0,0)" stroke-width="0.50"/>
<path d="M427.95,57.06 C428.28,57.05 428.78,57.12 429.15,57.21 C429.52,57.29 429.89,57.42 430.19,57.59 C430.48,57.75 430.77,57.88 430.94,58.18 C431.12,58.47 431.20,58.93 431.24,59.38 C431.27,59.82 431.26,60.47 431.15,60.87 C431.05,61.27 430.86,61.54 430.63,61.77 C430.39,62.01 430.11,62.20 429.74,62.30 C429.37,62.40 428.82,62.38 428.39,62.37 C427.97,62.35 427.49,62.37 427.19,62.22 C426.90,62.07 426.73,61.80 426.60,61.48 C426.48,61.16 426.48,60.70 426.46,60.28 C426.43,59.85 426.41,59.33 426.46,58.93 C426.50,58.53 426.63,58.15 426.75,57.88 C426.87,57.61 427.00,57.43 427.19,57.29 C427.39,57.15 427.62,57.07 427.95,57.06 Z" fill="rgb(38,38,38)" stroke="rgb(0,0,0)" stroke-width="0.50"/>
<path d="M427.97,58.21 C428.17,58.20 428.47,58.25 428.70,58.30 C428.93,58.35 429.15,58.43 429.33,58.53 C429.51,58.63 429.68,58.71 429.79,58.89 C429.90,59.07 429.95,59.35 429.97,59.62 C429.99,59.89 429.98,60.29 429.92,60.53 C429.86,60.77 429.74,60.94 429.60,61.08 C429.46,61.22 429.29,61.34 429.06,61.40 C428.83,61.46 428.50,61.45 428.24,61.44 C427.98,61.43 427.69,61.44 427.51,61.35 C427.33,61.26 427.22,61.10 427.15,60.90 C427.07,60.70 427.07,60.43 427.06,60.17 C427.05,59.91 427.03,59.59 427.06,59.35 C427.09,59.11 427.17,58.88 427.24,58.71 C427.31,58.54 427.39,58.43 427.51,58.35 C427.63,58.27 427.77,58.22 427.97,58.21 Z" fill="rgb(34,34,34)" stroke="rgb(0,0,0)" stroke-width="0.50"/>
<path d="M427.70,42.10 C429.68,42.02 432.73,42.47 435.00,43.00 C437.27,43.53 439.48,44.32 441.30,45.30 C443.12,46.28 444.83,47.08 445.90,48.90 C446.97,50.72 447.48,53.47 447.70,56.20 C447.92,58.93 447.82,62.87 447.20,65.30 C446.58,67.73 445.43,69.35 444.00,70.80 C442.57,72.25 440.87,73.40 438.60,74.00 C436.33,74.60 432.98,74.48 430.40,74.40 C427.82,74.32 424.92,74.40 423.10,73.50 C421.28,72.60 420.25,70.97 419.50,69.00 C418.75,67.03 418.75,64.28 418.60,61.70 C418.45,59.12 418.30,55.93 418.60,53.50 C418.90,51.07 419.65,48.77 420.40,47.10 C421.15,45.43 421.88,44.33 423.10,43.50 C424.32,42.67 425.72,42.18 427.70,42.10 Z" fill="none" stroke="#666" stroke-width="0.6"/>
</g>
<ellipse cx="430.80" cy="60.80" rx="0.80" ry="2.20" fill="#d0d0d0" filter="url(#f0_7)" opacity="0.85"/>
<path d="M447.80,48.20 C448.58,48.67 451.20,49.20 452.50,51.00 C453.80,52.80 455.43,56.42 455.60,59.00 C455.77,61.58 454.68,64.50 453.50,66.50 C452.32,68.50 449.33,70.25 448.50,71.00 " fill="none" stroke="#6a6a6a" stroke-width="0.6"/>
<path d="M447.80,50.00 C448.42,50.50 450.50,51.50 451.50,53.00 C452.50,54.50 453.72,57.00 453.80,59.00 C453.88,61.00 452.97,63.42 452.00,65.00 C451.03,66.58 448.67,67.92 448.00,68.50 " fill="none" stroke="#6a6a6a" stroke-width="0.6"/>
<path d="M447.80,52.00 C448.25,52.50 449.83,53.75 450.50,55.00 C451.17,56.25 451.83,58.08 451.80,59.50 C451.77,60.92 450.97,62.42 450.30,63.50 C449.63,64.58 448.22,65.58 447.80,66.00 " fill="none" stroke="#6a6a6a" stroke-width="0.6"/>
<clipPath id="clpb3"><path d="M316.50,153.50 C317.67,152.88 320.08,152.12 322.00,151.80 C323.92,151.48 326.08,151.40 328.00,151.60 C329.92,151.80 331.92,152.27 333.50,153.00 C335.08,153.73 336.42,154.75 337.50,156.00 C338.58,157.25 339.45,158.83 340.00,160.50 C340.55,162.17 340.72,164.08 340.80,166.00 C340.88,167.92 340.88,170.17 340.50,172.00 C340.12,173.83 339.50,175.62 338.50,177.00 C337.50,178.38 336.25,179.50 334.50,180.30 C332.75,181.10 330.25,181.58 328.00,181.80 C325.75,182.02 322.92,181.98 321.00,181.60 C319.08,181.22 317.67,180.60 316.50,179.50 C315.33,178.40 314.53,176.92 314.00,175.00 C313.47,173.08 313.33,170.50 313.30,168.00 C313.27,165.50 313.52,162.08 313.80,160.00 C314.08,157.92 314.55,156.58 315.00,155.50 C315.45,154.42 315.33,154.12 316.50,153.50 Z"/></clipPath>
<g filter="url(#f0_4)">
<path d="M316.50,153.50 C317.67,152.88 320.08,152.12 322.00,151.80 C323.92,151.48 326.08,151.40 328.00,151.60 C329.92,151.80 331.92,152.27 333.50,153.00 C335.08,153.73 336.42,154.75 337.50,156.00 C338.58,157.25 339.45,158.83 340.00,160.50 C340.55,162.17 340.72,164.08 340.80,166.00 C340.88,167.92 340.88,170.17 340.50,172.00 C340.12,173.83 339.50,175.62 338.50,177.00 C337.50,178.38 336.25,179.50 334.50,180.30 C332.75,181.10 330.25,181.58 328.00,181.80 C325.75,182.02 322.92,181.98 321.00,181.60 C319.08,181.22 317.67,180.60 316.50,179.50 C315.33,178.40 314.53,176.92 314.00,175.00 C313.47,173.08 313.33,170.50 313.30,168.00 C313.27,165.50 313.52,162.08 313.80,160.00 C314.08,157.92 314.55,156.58 315.00,155.50 C315.45,154.42 315.33,154.12 316.50,153.50 Z" fill="rgb(185,185,185)" stroke="rgb(130,130,130)" stroke-width="0.50"/>
<path d="M316.92,154.50 C318.01,153.92 320.27,153.20 322.06,152.91 C323.86,152.61 325.89,152.53 327.68,152.72 C329.47,152.91 331.34,153.34 332.82,154.03 C334.31,154.71 335.55,155.67 336.57,156.84 C337.58,158.01 338.39,159.49 338.91,161.05 C339.42,162.61 339.58,164.40 339.66,166.19 C339.73,167.99 339.73,170.09 339.38,171.81 C339.02,173.52 338.44,175.19 337.50,176.49 C336.57,177.78 335.40,178.82 333.76,179.57 C332.12,180.32 329.78,180.77 327.68,180.98 C325.57,181.18 322.92,181.15 321.13,180.79 C319.34,180.43 318.01,179.85 316.92,178.82 C315.83,177.80 315.08,176.41 314.58,174.61 C314.08,172.82 313.95,170.40 313.92,168.06 C313.89,165.72 314.13,162.53 314.39,160.58 C314.66,158.63 315.09,157.38 315.51,156.37 C315.94,155.35 315.83,155.07 316.92,154.50 Z" fill="rgb(133,133,133)" stroke="rgb(78,78,78)" stroke-width="0.50"/>
<path d="M317.34,155.49 C318.35,154.96 320.46,154.29 322.13,154.01 C323.80,153.74 325.69,153.66 327.36,153.84 C329.03,154.01 330.77,154.42 332.15,155.06 C333.53,155.70 334.69,156.58 335.64,157.67 C336.58,158.76 337.33,160.14 337.81,161.59 C338.29,163.05 338.44,164.72 338.51,166.39 C338.58,168.06 338.58,170.02 338.25,171.61 C337.92,173.21 337.38,174.77 336.51,175.97 C335.64,177.18 334.55,178.15 333.02,178.85 C331.50,179.54 329.32,179.97 327.36,180.15 C325.40,180.34 322.93,180.31 321.26,179.98 C319.59,179.65 318.35,179.11 317.34,178.15 C316.32,177.19 315.62,175.90 315.16,174.23 C314.69,172.56 314.58,170.31 314.55,168.13 C314.52,165.95 314.74,162.97 314.98,161.16 C315.23,159.34 315.64,158.18 316.03,157.24 C316.42,156.29 316.32,156.03 317.34,155.49 Z" fill="rgb(103,103,103)" stroke="rgb(48,48,48)" stroke-width="0.50"/>
<path d="M317.75,156.49 C318.70,155.99 320.65,155.37 322.19,155.12 C323.74,154.86 325.49,154.79 327.04,154.96 C328.58,155.12 330.20,155.49 331.48,156.09 C332.75,156.68 333.83,157.50 334.70,158.51 C335.58,159.52 336.28,160.79 336.72,162.14 C337.17,163.48 337.30,165.03 337.37,166.58 C337.43,168.13 337.43,169.94 337.12,171.42 C336.82,172.90 336.32,174.34 335.51,175.46 C334.70,176.57 333.69,177.47 332.28,178.12 C330.87,178.77 328.85,179.16 327.04,179.33 C325.22,179.51 322.93,179.48 321.39,179.17 C319.84,178.86 318.70,178.36 317.75,177.47 C316.81,176.59 316.17,175.39 315.74,173.84 C315.31,172.30 315.20,170.21 315.17,168.19 C315.14,166.18 315.35,163.42 315.57,161.74 C315.80,160.05 316.18,158.98 316.54,158.10 C316.91,157.23 316.81,156.99 317.75,156.49 Z" fill="rgb(94,94,94)" stroke="rgb(39,39,39)" stroke-width="0.50"/>
<path d="M318.17,157.49 C319.04,157.03 320.83,156.46 322.26,156.22 C323.68,155.99 325.29,155.93 326.71,156.07 C328.14,156.22 329.62,156.57 330.80,157.11 C331.98,157.66 332.97,158.41 333.77,159.34 C334.58,160.27 335.22,161.45 335.63,162.69 C336.04,163.92 336.16,165.35 336.22,166.77 C336.28,168.20 336.28,169.87 336.00,171.23 C335.72,172.59 335.26,173.92 334.51,174.94 C333.77,175.97 332.84,176.80 331.54,177.39 C330.24,177.99 328.39,178.35 326.71,178.51 C325.04,178.67 322.94,178.64 321.51,178.36 C320.09,178.08 319.04,177.62 318.17,176.80 C317.30,175.98 316.71,174.88 316.31,173.46 C315.92,172.03 315.82,170.11 315.79,168.26 C315.77,166.40 315.96,163.86 316.17,162.31 C316.38,160.77 316.72,159.78 317.06,158.97 C317.39,158.17 317.30,157.94 318.17,157.49 Z" fill="rgb(87,87,87)" stroke="rgb(32,32,32)" stroke-width="0.50"/>
<path d="M318.59,158.48 C319.38,158.06 321.02,157.54 322.32,157.33 C323.62,157.11 325.09,157.06 326.39,157.19 C327.69,157.33 329.05,157.65 330.12,158.14 C331.20,158.64 332.10,159.33 332.84,160.18 C333.57,161.03 334.16,162.10 334.54,163.23 C334.91,164.36 335.02,165.66 335.08,166.96 C335.14,168.26 335.14,169.79 334.88,171.04 C334.61,172.28 334.20,173.49 333.52,174.43 C332.84,175.37 331.99,176.12 330.80,176.67 C329.62,177.21 327.92,177.54 326.39,177.69 C324.87,177.83 322.94,177.81 321.64,177.55 C320.34,177.29 319.38,176.87 318.59,176.12 C317.80,175.38 317.25,174.37 316.89,173.07 C316.53,171.77 316.44,170.02 316.42,168.32 C316.40,166.62 316.56,164.31 316.76,162.89 C316.95,161.48 317.27,160.57 317.57,159.84 C317.88,159.10 317.80,158.90 318.59,158.48 Z" fill="rgb(81,81,81)" stroke="rgb(26,26,26)" stroke-width="0.50"/>
<path d="M319.01,159.48 C319.72,159.10 321.21,158.63 322.39,158.43 C323.56,158.24 324.89,158.19 326.07,158.31 C327.25,158.43 328.48,158.72 329.45,159.17 C330.42,159.62 331.24,160.25 331.91,161.01 C332.57,161.78 333.10,162.75 333.44,163.78 C333.78,164.80 333.88,165.98 333.93,167.16 C333.99,168.33 333.99,169.72 333.75,170.84 C333.51,171.97 333.14,173.06 332.52,173.91 C331.91,174.76 331.14,175.45 330.06,175.94 C328.99,176.43 327.45,176.73 326.07,176.86 C324.69,177.00 322.95,176.98 321.77,176.74 C320.59,176.50 319.72,176.13 319.01,175.45 C318.29,174.77 317.80,173.86 317.47,172.69 C317.14,171.51 317.06,169.92 317.04,168.39 C317.02,166.85 317.17,164.75 317.35,163.47 C317.52,162.19 317.81,161.37 318.09,160.71 C318.36,160.04 318.29,159.86 319.01,159.48 Z" fill="rgb(75,75,75)" stroke="rgb(20,20,20)" stroke-width="0.50"/>
<path d="M319.43,160.47 C320.07,160.14 321.40,159.71 322.45,159.54 C323.50,159.37 324.70,159.32 325.75,159.43 C326.80,159.54 327.90,159.80 328.77,160.20 C329.65,160.60 330.38,161.16 330.98,161.85 C331.57,162.54 332.05,163.41 332.35,164.32 C332.65,165.24 332.74,166.30 332.79,167.35 C332.84,168.40 332.84,169.64 332.62,170.65 C332.41,171.66 332.07,172.64 331.52,173.40 C330.97,174.16 330.29,174.78 329.32,175.22 C328.36,175.66 326.99,175.92 325.75,176.04 C324.51,176.16 322.95,176.14 321.90,175.93 C320.85,175.72 320.07,175.38 319.43,174.78 C318.78,174.17 318.34,173.35 318.05,172.30 C317.76,171.25 317.68,169.82 317.67,168.45 C317.65,167.07 317.78,165.20 317.94,164.05 C318.10,162.90 318.35,162.17 318.60,161.57 C318.85,160.98 318.78,160.81 319.43,160.47 Z" fill="rgb(69,69,69)" stroke="rgb(14,14,14)" stroke-width="0.50"/>
<path d="M319.84,161.47 C320.41,161.17 321.58,160.80 322.51,160.65 C323.45,160.49 324.50,160.45 325.43,160.55 C326.36,160.65 327.33,160.87 328.10,161.23 C328.87,161.58 329.52,162.08 330.04,162.69 C330.57,163.29 330.99,164.06 331.26,164.87 C331.52,165.68 331.61,166.61 331.65,167.54 C331.69,168.47 331.69,169.57 331.50,170.46 C331.31,171.35 331.01,172.21 330.53,172.89 C330.04,173.56 329.44,174.10 328.59,174.49 C327.74,174.88 326.52,175.11 325.43,175.22 C324.34,175.32 322.96,175.31 322.03,175.12 C321.10,174.93 320.41,174.63 319.84,174.10 C319.28,173.57 318.89,172.85 318.63,171.91 C318.37,170.98 318.30,169.73 318.29,168.51 C318.27,167.30 318.39,165.64 318.53,164.63 C318.67,163.62 318.90,162.97 319.11,162.44 C319.33,161.92 319.28,161.77 319.84,161.47 Z" fill="rgb(63,63,63)" stroke="rgb(8,8,8)" stroke-width="0.50"/>
<path d="M320.26,162.47 C320.75,162.21 321.77,161.88 322.58,161.75 C323.39,161.62 324.30,161.58 325.11,161.67 C325.91,161.75 326.76,161.95 327.43,162.26 C328.09,162.57 328.65,162.99 329.11,163.52 C329.57,164.05 329.93,164.72 330.16,165.42 C330.40,166.12 330.47,166.93 330.50,167.74 C330.54,168.54 330.54,169.49 330.38,170.26 C330.21,171.04 329.95,171.79 329.53,172.37 C329.11,172.95 328.58,173.43 327.85,173.76 C327.11,174.10 326.06,174.30 325.11,174.39 C324.16,174.49 322.96,174.47 322.16,174.31 C321.35,174.15 320.75,173.89 320.26,173.43 C319.77,172.96 319.43,172.34 319.21,171.53 C318.98,170.72 318.93,169.63 318.91,168.58 C318.90,167.52 319.00,166.09 319.12,165.21 C319.24,164.33 319.44,163.77 319.63,163.31 C319.82,162.85 319.77,162.73 320.26,162.47 Z" fill="rgb(57,57,57)" stroke="rgb(2,2,2)" stroke-width="0.50"/>
<path d="M320.68,163.46 C321.10,163.24 321.96,162.97 322.64,162.86 C323.33,162.74 324.10,162.71 324.79,162.79 C325.47,162.86 326.18,163.02 326.75,163.29 C327.32,163.55 327.79,163.91 328.18,164.36 C328.57,164.80 328.88,165.37 329.07,165.96 C329.27,166.56 329.33,167.24 329.36,167.93 C329.39,168.61 329.39,169.42 329.25,170.07 C329.11,170.73 328.89,171.36 328.54,171.86 C328.18,172.35 327.73,172.75 327.11,173.04 C326.48,173.32 325.59,173.49 324.79,173.57 C323.98,173.65 322.97,173.64 322.29,173.50 C321.60,173.36 321.10,173.14 320.68,172.75 C320.26,172.36 319.98,171.83 319.79,171.14 C319.60,170.46 319.55,169.54 319.54,168.64 C319.52,167.75 319.61,166.53 319.71,165.79 C319.82,165.04 319.98,164.57 320.14,164.18 C320.30,163.79 320.26,163.68 320.68,163.46 Z" fill="rgb(52,52,52)" stroke="rgb(0,0,0)" stroke-width="0.50"/>
<path d="M321.10,164.46 C321.44,164.28 322.15,164.06 322.71,163.96 C323.27,163.87 323.90,163.85 324.46,163.90 C325.03,163.96 325.61,164.10 326.07,164.31 C326.54,164.53 326.93,164.83 327.25,165.19 C327.56,165.56 327.82,166.02 327.98,166.51 C328.14,167.00 328.19,167.56 328.21,168.12 C328.24,168.68 328.24,169.34 328.12,169.88 C328.01,170.42 327.83,170.94 327.54,171.34 C327.25,171.75 326.88,172.08 326.37,172.31 C325.86,172.54 325.12,172.69 324.46,172.75 C323.81,172.81 322.98,172.80 322.41,172.69 C321.85,172.58 321.44,172.40 321.10,172.07 C320.75,171.75 320.52,171.32 320.36,170.76 C320.21,170.20 320.17,169.44 320.16,168.71 C320.15,167.97 320.22,166.97 320.31,166.36 C320.39,165.75 320.53,165.36 320.66,165.05 C320.79,164.73 320.75,164.64 321.10,164.46 Z" fill="rgb(47,47,47)" stroke="rgb(0,0,0)" stroke-width="0.50"/>
<path d="M321.51,165.46 C321.78,165.32 322.33,165.14 322.77,165.07 C323.21,165.00 323.70,164.98 324.14,165.02 C324.58,165.07 325.04,165.18 325.40,165.34 C325.76,165.51 326.07,165.74 326.31,166.03 C326.56,166.31 326.76,166.68 326.89,167.06 C327.01,167.44 327.05,167.88 327.07,168.31 C327.09,168.75 327.09,169.27 327.00,169.69 C326.91,170.10 326.77,170.51 326.54,170.83 C326.31,171.14 326.03,171.40 325.63,171.58 C325.23,171.77 324.66,171.88 324.14,171.93 C323.63,171.98 322.98,171.97 322.54,171.88 C322.10,171.79 321.78,171.65 321.51,171.40 C321.25,171.15 321.06,170.81 320.94,170.37 C320.82,169.93 320.79,169.34 320.78,168.77 C320.78,168.20 320.83,167.42 320.90,166.94 C320.96,166.47 321.07,166.16 321.17,165.91 C321.27,165.67 321.25,165.60 321.51,165.46 Z" fill="rgb(42,42,42)" stroke="rgb(0,0,0)" stroke-width="0.50"/>
<path d="M321.93,166.45 C322.12,166.35 322.52,166.23 322.84,166.17 C323.15,166.12 323.51,166.11 323.82,166.14 C324.14,166.17 324.46,166.25 324.73,166.37 C324.99,166.49 325.20,166.66 325.38,166.86 C325.56,167.07 325.70,167.33 325.79,167.60 C325.88,167.88 325.91,168.19 325.92,168.51 C325.94,168.82 325.94,169.19 325.88,169.49 C325.81,169.79 325.71,170.09 325.55,170.31 C325.38,170.54 325.18,170.73 324.89,170.86 C324.60,170.99 324.19,171.07 323.82,171.10 C323.45,171.14 322.99,171.13 322.67,171.07 C322.36,171.01 322.12,170.91 321.93,170.72 C321.74,170.54 321.61,170.30 321.52,169.99 C321.43,169.67 321.41,169.25 321.41,168.84 C321.40,168.43 321.44,167.86 321.49,167.52 C321.54,167.18 321.61,166.96 321.69,166.78 C321.76,166.60 321.74,166.55 321.93,166.45 Z" fill="rgb(38,38,38)" stroke="rgb(0,0,0)" stroke-width="0.50"/>
<path d="M322.35,167.45 C322.47,167.39 322.71,167.31 322.90,167.28 C323.09,167.25 323.31,167.24 323.50,167.26 C323.69,167.28 323.89,167.33 324.05,167.40 C324.21,167.47 324.34,167.57 324.45,167.70 C324.56,167.82 324.64,167.98 324.70,168.15 C324.75,168.32 324.77,168.51 324.78,168.70 C324.79,168.89 324.79,169.12 324.75,169.30 C324.71,169.48 324.65,169.66 324.55,169.80 C324.45,169.94 324.32,170.05 324.15,170.13 C323.97,170.21 323.73,170.26 323.50,170.28 C323.27,170.30 322.99,170.30 322.80,170.26 C322.61,170.22 322.47,170.16 322.35,170.05 C322.23,169.94 322.15,169.79 322.10,169.60 C322.05,169.41 322.03,169.15 322.03,168.90 C322.03,168.65 322.05,168.31 322.08,168.10 C322.11,167.89 322.15,167.76 322.20,167.65 C322.25,167.54 322.23,167.51 322.35,167.45 Z" fill="rgb(34,34,34)" stroke="rgb(0,0,0)" stroke-width="0.50"/>
<path d="M316.50,153.50 C317.67,152.88 320.08,152.12 322.00,151.80 C323.92,151.48 326.08,151.40 328.00,151.60 C329.92,151.80 331.92,152.27 333.50,153.00 C335.08,153.73 336.42,154.75 337.50,156.00 C338.58,157.25 339.45,158.83 340.00,160.50 C340.55,162.17 340.72,164.08 340.80,166.00 C340.88,167.92 340.88,170.17 340.50,172.00 C340.12,173.83 339.50,175.62 338.50,177.00 C337.50,178.38 336.25,179.50 334.50,180.30 C332.75,181.10 330.25,181.58 328.00,181.80 C325.75,182.02 322.92,181.98 321.00,181.60 C319.08,181.22 317.67,180.60 316.50,179.50 C315.33,178.40 314.53,176.92 314.00,175.00 C313.47,173.08 313.33,170.50 313.30,168.00 C313.27,165.50 313.52,162.08 313.80,160.00 C314.08,157.92 314.55,156.58 315.00,155.50 C315.45,154.42 315.33,154.12 316.50,153.50 Z" fill="none" stroke="#666" stroke-width="0.6"/>
</g>
<ellipse cx="326.20" cy="169.60" rx="1.20" ry="1.00" fill="#d0d0d0" filter="url(#f0_7)" opacity="0.85"/>
<path d="M341.00,160.50 C341.58,161.00 343.63,162.27 344.50,163.50 C345.37,164.73 346.15,166.40 346.20,167.90 C346.25,169.40 345.63,171.15 344.80,172.50 C343.97,173.85 341.80,175.42 341.20,176.00 " fill="#d8d8d8" stroke="#6a6a6a" stroke-width="0.6"/>
<clipPath id="clpb4"><path d="M442.30,153.30 C444.87,152.65 448.10,152.63 451.00,152.80 C453.90,152.97 457.13,153.58 459.70,154.30 C462.27,155.02 464.65,155.90 466.40,157.10 C468.15,158.30 469.40,159.82 470.20,161.50 C471.00,163.18 471.12,165.28 471.20,167.20 C471.28,169.12 471.35,171.23 470.70,173.00 C470.05,174.77 468.98,176.52 467.30,177.80 C465.62,179.08 463.32,179.98 460.60,180.70 C457.88,181.42 454.20,182.10 451.00,182.10 C447.80,182.10 444.28,181.42 441.40,180.70 C438.52,179.98 435.55,179.08 433.70,177.80 C431.85,176.52 430.95,174.77 430.30,173.00 C429.65,171.23 429.55,169.12 429.80,167.20 C430.05,165.28 430.83,163.25 431.80,161.50 C432.77,159.75 433.85,158.07 435.60,156.70 C437.35,155.33 439.73,153.95 442.30,153.30 Z"/></clipPath>
<g filter="url(#f0_4)">
<path d="M442.30,153.30 C444.87,152.65 448.10,152.63 451.00,152.80 C453.90,152.97 457.13,153.58 459.70,154.30 C462.27,155.02 464.65,155.90 466.40,157.10 C468.15,158.30 469.40,159.82 470.20,161.50 C471.00,163.18 471.12,165.28 471.20,167.20 C471.28,169.12 471.35,171.23 470.70,173.00 C470.05,174.77 468.98,176.52 467.30,177.80 C465.62,179.08 463.32,179.98 460.60,180.70 C457.88,181.42 454.20,182.10 451.00,182.10 C447.80,182.10 444.28,181.42 441.40,180.70 C438.52,179.98 435.55,179.08 433.70,177.80 C431.85,176.52 430.95,174.77 430.30,173.00 C429.65,171.23 429.55,169.12 429.80,167.20 C430.05,165.28 430.83,163.25 431.80,161.50 C432.77,159.75 433.85,158.07 435.60,156.70 C437.35,155.33 439.73,153.95 442.30,153.30 Z" fill="rgb(185,185,185)" stroke="rgb(130,130,130)" stroke-width="0.50"/>
<path d="M442.25,154.25 C444.65,153.64 447.68,153.62 450.39,153.78 C453.10,153.93 456.13,154.51 458.53,155.18 C460.93,155.85 463.16,156.68 464.80,157.80 C466.44,158.92 467.61,160.34 468.36,161.92 C469.10,163.49 469.21,165.46 469.29,167.25 C469.37,169.04 469.43,171.03 468.82,172.68 C468.21,174.33 467.22,175.97 465.64,177.17 C464.07,178.37 461.91,179.21 459.37,179.88 C456.83,180.55 453.38,181.19 450.39,181.19 C447.39,181.19 444.10,180.55 441.41,179.88 C438.71,179.21 435.93,178.37 434.20,177.17 C432.47,175.97 431.63,174.33 431.02,172.68 C430.41,171.03 430.32,169.04 430.55,167.25 C430.79,165.46 431.52,163.56 432.42,161.92 C433.33,160.28 434.34,158.71 435.98,157.43 C437.62,156.15 439.85,154.85 442.25,154.25 Z" fill="rgb(133,133,133)" stroke="rgb(78,78,78)" stroke-width="0.50"/>
<path d="M442.20,155.19 C444.43,154.62 447.25,154.61 449.78,154.75 C452.31,154.90 455.12,155.44 457.36,156.06 C459.60,156.69 461.67,157.46 463.20,158.50 C464.72,159.55 465.81,160.87 466.51,162.34 C467.21,163.80 467.31,165.63 467.38,167.30 C467.45,168.97 467.51,170.82 466.95,172.36 C466.38,173.90 465.45,175.42 463.98,176.54 C462.52,177.66 460.51,178.44 458.14,179.07 C455.78,179.69 452.57,180.29 449.78,180.29 C446.99,180.29 443.93,179.69 441.41,179.07 C438.90,178.44 436.31,177.66 434.70,176.54 C433.09,175.42 432.31,173.90 431.74,172.36 C431.17,170.82 431.09,168.97 431.30,167.30 C431.52,165.63 432.20,163.86 433.05,162.34 C433.89,160.81 434.83,159.34 436.36,158.15 C437.88,156.96 439.96,155.76 442.20,155.19 Z" fill="rgb(103,103,103)" stroke="rgb(48,48,48)" stroke-width="0.50"/>
<path d="M442.15,156.14 C444.22,155.61 446.83,155.60 449.17,155.73 C451.51,155.87 454.12,156.36 456.19,156.94 C458.26,157.52 460.19,158.23 461.60,159.20 C463.01,160.17 464.02,161.39 464.66,162.75 C465.31,164.11 465.40,165.81 465.47,167.35 C465.54,168.90 465.59,170.61 465.07,172.04 C464.54,173.46 463.68,174.87 462.32,175.91 C460.97,176.95 459.11,177.67 456.92,178.25 C454.72,178.83 451.75,179.38 449.17,179.38 C446.58,179.38 443.75,178.83 441.42,178.25 C439.09,177.67 436.70,176.95 435.20,175.91 C433.71,174.87 432.98,173.46 432.46,172.04 C431.94,170.61 431.85,168.90 432.06,167.35 C432.26,165.81 432.89,164.17 433.67,162.75 C434.45,161.34 435.33,159.98 436.74,158.88 C438.15,157.78 440.07,156.66 442.15,156.14 Z" fill="rgb(94,94,94)" stroke="rgb(39,39,39)" stroke-width="0.50"/>
<path d="M442.09,157.08 C444.00,156.60 446.40,156.58 448.56,156.71 C450.71,156.83 453.11,157.29 455.02,157.82 C456.93,158.36 458.70,159.01 460.00,159.90 C461.30,160.79 462.23,161.92 462.82,163.17 C463.41,164.42 463.50,165.98 463.56,167.41 C463.62,168.83 463.67,170.40 463.19,171.71 C462.71,173.03 461.92,174.33 460.67,175.28 C459.42,176.23 457.71,176.90 455.69,177.43 C453.67,177.97 450.93,178.47 448.56,178.47 C446.18,178.47 443.57,177.97 441.43,177.43 C439.28,176.90 437.08,176.23 435.71,175.28 C434.33,174.33 433.66,173.03 433.18,171.71 C432.70,170.40 432.62,168.83 432.81,167.41 C432.99,165.98 433.58,164.47 434.29,163.17 C435.01,161.87 435.82,160.62 437.12,159.61 C438.42,158.59 440.19,157.56 442.09,157.08 Z" fill="rgb(87,87,87)" stroke="rgb(32,32,32)" stroke-width="0.50"/>
<path d="M442.04,158.03 C443.78,157.58 445.98,157.57 447.95,157.69 C449.91,157.80 452.11,158.22 453.85,158.70 C455.59,159.19 457.21,159.79 458.40,160.60 C459.58,161.42 460.43,162.45 460.98,163.59 C461.52,164.73 461.60,166.16 461.65,167.46 C461.71,168.76 461.76,170.19 461.31,171.39 C460.87,172.59 460.15,173.78 459.01,174.65 C457.86,175.52 456.30,176.13 454.46,176.62 C452.62,177.10 450.12,177.57 447.95,177.57 C445.77,177.57 443.39,177.10 441.43,176.62 C439.48,176.13 437.46,175.52 436.21,174.65 C434.95,173.78 434.34,172.59 433.90,171.39 C433.46,170.19 433.39,168.76 433.56,167.46 C433.73,166.16 434.26,164.78 434.92,163.59 C435.57,162.40 436.31,161.26 437.50,160.33 C438.68,159.40 440.30,158.47 442.04,158.03 Z" fill="rgb(81,81,81)" stroke="rgb(26,26,26)" stroke-width="0.50"/>
<path d="M441.99,158.97 C443.57,158.57 445.55,158.56 447.34,158.66 C449.12,158.77 451.10,159.14 452.68,159.58 C454.26,160.02 455.72,160.57 456.80,161.30 C457.87,162.04 458.64,162.97 459.13,164.01 C459.62,165.04 459.69,166.33 459.74,167.51 C459.80,168.69 459.84,169.99 459.44,171.07 C459.04,172.16 458.38,173.23 457.35,174.02 C456.31,174.81 454.90,175.36 453.23,175.80 C451.56,176.24 449.30,176.66 447.34,176.66 C445.37,176.66 443.21,176.24 441.44,175.80 C439.67,175.36 437.84,174.81 436.71,174.02 C435.57,173.23 435.02,172.16 434.62,171.07 C434.22,169.99 434.16,168.69 434.31,167.51 C434.47,166.33 434.95,165.08 435.54,164.01 C436.14,162.93 436.80,161.90 437.88,161.06 C438.95,160.22 440.41,159.37 441.99,158.97 Z" fill="rgb(75,75,75)" stroke="rgb(20,20,20)" stroke-width="0.50"/>
<path d="M441.94,159.92 C443.35,159.56 445.13,159.55 446.73,159.64 C448.32,159.73 450.10,160.07 451.51,160.47 C452.92,160.86 454.23,161.34 455.19,162.00 C456.16,162.66 456.84,163.50 457.28,164.43 C457.72,165.35 457.79,166.51 457.83,167.56 C457.88,168.61 457.92,169.78 457.56,170.75 C457.20,171.72 456.62,172.68 455.69,173.39 C454.76,174.10 453.50,174.59 452.00,174.98 C450.51,175.38 448.49,175.75 446.73,175.75 C444.97,175.75 443.03,175.38 441.44,174.98 C439.86,174.59 438.23,174.10 437.21,173.39 C436.19,172.68 435.70,171.72 435.34,170.75 C434.98,169.78 434.93,168.61 435.06,167.56 C435.20,166.51 435.63,165.39 436.17,164.43 C436.70,163.46 437.29,162.54 438.25,161.78 C439.22,161.03 440.53,160.27 441.94,159.92 Z" fill="rgb(69,69,69)" stroke="rgb(14,14,14)" stroke-width="0.50"/>
<path d="M441.89,160.86 C443.14,160.54 444.71,160.54 446.11,160.62 C447.52,160.70 449.09,161.00 450.34,161.35 C451.59,161.69 452.74,162.12 453.59,162.71 C454.44,163.29 455.05,164.03 455.44,164.84 C455.83,165.66 455.89,166.68 455.93,167.61 C455.97,168.54 456.00,169.57 455.68,170.43 C455.37,171.29 454.85,172.14 454.03,172.76 C453.21,173.38 452.10,173.82 450.78,174.17 C449.46,174.52 447.67,174.85 446.11,174.85 C444.56,174.85 442.85,174.52 441.45,174.17 C440.05,173.82 438.61,173.38 437.71,172.76 C436.81,172.14 436.38,171.29 436.06,170.43 C435.74,169.57 435.70,168.54 435.82,167.61 C435.94,166.68 436.32,165.69 436.79,164.84 C437.26,163.99 437.78,163.18 438.63,162.51 C439.48,161.85 440.64,161.18 441.89,160.86 Z" fill="rgb(63,63,63)" stroke="rgb(8,8,8)" stroke-width="0.50"/>
<path d="M441.84,161.81 C442.92,161.53 444.28,161.52 445.50,161.59 C446.73,161.66 448.09,161.92 449.17,162.23 C450.25,162.53 451.26,162.90 451.99,163.41 C452.73,163.91 453.26,164.55 453.59,165.26 C453.93,165.97 453.98,166.86 454.02,167.66 C454.05,168.47 454.08,169.36 453.81,170.11 C453.53,170.85 453.08,171.59 452.37,172.13 C451.66,172.67 450.69,173.05 449.55,173.35 C448.40,173.65 446.85,173.94 445.50,173.94 C444.15,173.94 442.67,173.65 441.46,173.35 C440.24,173.05 438.99,172.67 438.21,172.13 C437.43,171.59 437.05,170.85 436.78,170.11 C436.51,169.36 436.46,168.47 436.57,167.66 C436.67,166.86 437.00,166.00 437.41,165.26 C437.82,164.52 438.28,163.81 439.01,163.24 C439.75,162.66 440.76,162.08 441.84,161.81 Z" fill="rgb(57,57,57)" stroke="rgb(2,2,2)" stroke-width="0.50"/>
<path d="M441.79,162.75 C442.70,162.52 443.86,162.51 444.89,162.57 C445.93,162.63 447.08,162.85 448.00,163.11 C448.92,163.36 449.77,163.68 450.39,164.11 C451.02,164.54 451.46,165.08 451.75,165.68 C452.04,166.28 452.08,167.03 452.11,167.71 C452.14,168.40 452.16,169.15 451.93,169.79 C451.70,170.42 451.32,171.04 450.71,171.50 C450.11,171.96 449.29,172.28 448.32,172.54 C447.35,172.79 446.04,173.04 444.89,173.04 C443.75,173.04 442.49,172.79 441.46,172.54 C440.43,172.28 439.38,171.96 438.71,171.50 C438.05,171.04 437.73,170.42 437.50,169.79 C437.27,169.15 437.23,168.40 437.32,167.71 C437.41,167.03 437.69,166.30 438.04,165.68 C438.38,165.05 438.77,164.45 439.39,163.96 C440.02,163.48 440.87,162.98 441.79,162.75 Z" fill="rgb(52,52,52)" stroke="rgb(0,0,0)" stroke-width="0.50"/>
<path d="M441.73,163.69 C442.49,163.50 443.43,163.50 444.28,163.55 C445.13,163.60 446.08,163.78 446.83,163.99 C447.58,164.20 448.28,164.46 448.79,164.81 C449.30,165.16 449.67,165.60 449.90,166.10 C450.14,166.59 450.17,167.20 450.20,167.77 C450.22,168.33 450.24,168.95 450.05,169.46 C449.86,169.98 449.55,170.49 449.06,170.87 C448.56,171.25 447.89,171.51 447.09,171.72 C446.30,171.93 445.22,172.13 444.28,172.13 C443.34,172.13 442.32,171.93 441.47,171.72 C440.63,171.51 439.76,171.25 439.22,170.87 C438.67,170.49 438.41,169.98 438.22,169.46 C438.03,168.95 438.00,168.33 438.07,167.77 C438.15,167.20 438.38,166.61 438.66,166.10 C438.94,165.58 439.26,165.09 439.77,164.69 C440.28,164.29 440.98,163.89 441.73,163.69 Z" fill="rgb(47,47,47)" stroke="rgb(0,0,0)" stroke-width="0.50"/>
<path d="M441.68,164.64 C442.27,164.49 443.01,164.49 443.67,164.53 C444.33,164.56 445.07,164.70 445.66,164.87 C446.25,165.03 446.79,165.23 447.19,165.51 C447.59,165.78 447.88,166.13 448.06,166.51 C448.24,166.90 448.27,167.38 448.29,167.82 C448.31,168.26 448.32,168.74 448.17,169.14 C448.03,169.55 447.78,169.95 447.40,170.24 C447.01,170.53 446.49,170.74 445.87,170.90 C445.24,171.07 444.40,171.22 443.67,171.22 C442.94,171.22 442.14,171.07 441.48,170.90 C440.82,170.74 440.14,170.53 439.72,170.24 C439.29,169.95 439.09,169.55 438.94,169.14 C438.79,168.74 438.77,168.26 438.83,167.82 C438.88,167.38 439.06,166.91 439.28,166.51 C439.50,166.11 439.75,165.73 440.15,165.42 C440.55,165.10 441.10,164.79 441.68,164.64 Z" fill="rgb(42,42,42)" stroke="rgb(0,0,0)" stroke-width="0.50"/>
<path d="M441.63,165.59 C442.05,165.48 442.58,165.48 443.06,165.50 C443.54,165.53 444.07,165.63 444.49,165.75 C444.91,165.87 445.30,166.01 445.59,166.21 C445.88,166.41 446.08,166.66 446.21,166.93 C446.35,167.21 446.37,167.55 446.38,167.87 C446.39,168.18 446.40,168.53 446.30,168.82 C446.19,169.11 446.02,169.40 445.74,169.61 C445.46,169.82 445.08,169.97 444.64,170.09 C444.19,170.20 443.59,170.32 443.06,170.32 C442.54,170.32 441.96,170.20 441.48,170.09 C441.01,169.97 440.52,169.82 440.22,169.61 C439.91,169.40 439.77,169.11 439.66,168.82 C439.55,168.53 439.54,168.18 439.58,167.87 C439.62,167.55 439.75,167.22 439.91,166.93 C440.07,166.64 440.24,166.37 440.53,166.14 C440.82,165.92 441.21,165.69 441.63,165.59 Z" fill="rgb(38,38,38)" stroke="rgb(0,0,0)" stroke-width="0.50"/>
<path d="M441.58,166.53 C441.84,166.47 442.16,166.46 442.45,166.48 C442.74,166.50 443.06,166.56 443.32,166.63 C443.58,166.70 443.81,166.79 443.99,166.91 C444.17,167.03 444.29,167.18 444.37,167.35 C444.45,167.52 444.46,167.73 444.47,167.92 C444.48,168.11 444.49,168.32 444.42,168.50 C444.36,168.68 444.25,168.85 444.08,168.98 C443.91,169.11 443.68,169.20 443.41,169.27 C443.14,169.34 442.77,169.41 442.45,169.41 C442.13,169.41 441.78,169.34 441.49,169.27 C441.20,169.20 440.91,169.11 440.72,168.98 C440.54,168.85 440.44,168.68 440.38,168.50 C440.31,168.32 440.30,168.11 440.33,167.92 C440.36,167.73 440.43,167.52 440.53,167.35 C440.63,167.18 440.74,167.01 440.91,166.87 C441.09,166.73 441.32,166.59 441.58,166.53 Z" fill="rgb(34,34,34)" stroke="rgb(0,0,0)" stroke-width="0.50"/>
<path d="M442.30,153.30 C444.87,152.65 448.10,152.63 451.00,152.80 C453.90,152.97 457.13,153.58 459.70,154.30 C462.27,155.02 464.65,155.90 466.40,157.10 C468.15,158.30 469.40,159.82 470.20,161.50 C471.00,163.18 471.12,165.28 471.20,167.20 C471.28,169.12 471.35,171.23 470.70,173.00 C470.05,174.77 468.98,176.52 467.30,177.80 C465.62,179.08 463.32,179.98 460.60,180.70 C457.88,181.42 454.20,182.10 451.00,182.10 C447.80,182.10 444.28,181.42 441.40,180.70 C438.52,179.98 435.55,179.08 433.70,177.80 C431.85,176.52 430.95,174.77 430.30,173.00 C429.65,171.23 429.55,169.12 429.80,167.20 C430.05,165.28 430.83,163.25 431.80,161.50 C432.77,159.75 433.85,158.07 435.60,156.70 C437.35,155.33 439.73,153.95 442.30,153.30 Z" fill="none" stroke="#666" stroke-width="0.6"/>
</g>
<ellipse cx="445.50" cy="168.80" rx="2.20" ry="1.30" fill="#e0e0e0" filter="url(#f0_7)" opacity="0.85"/>
<rect x="40.50" y="20.00" width="86.80" height="86.20" fill="none" stroke="#828282" stroke-width="1.0"/>
<path d="M40.50,20.00 V106.20 H127.30" fill="none" stroke="#767676" stroke-width="1.05"/>
<path d="M40.50,27.90 h-2 M40.50,47.00 h-2 M40.50,66.10 h-2 M40.50,85.00 h-2 M40.50,98.30 h-2 M46.00,106.20 v2 M60.10,106.20 v2 M74.30,106.20 v2 M98.20,106.20 v2 M119.00,106.20 v2 " stroke="#333" stroke-width="1"/>
<path d="M40.50,41.25 h-1.2 M40.50,37.89 h-1.2 M40.50,35.50 h-1.2 M40.50,33.65 h-1.2 M40.50,32.14 h-1.2 M40.50,30.86 h-1.2 M40.50,29.75 h-1.2 M40.50,28.77 h-1.2 M40.50,60.35 h-1.2 M40.50,56.99 h-1.2 M40.50,54.60 h-1.2 M40.50,52.75 h-1.2 M40.50,51.24 h-1.2 M40.50,49.96 h-1.2 M40.50,48.85 h-1.2 M40.50,47.87 h-1.2 M40.50,79.31 h-1.2 M40.50,75.98 h-1.2 M40.50,73.62 h-1.2 M40.50,71.79 h-1.2 M40.50,70.29 h-1.2 M40.50,69.03 h-1.2 M40.50,67.93 h-1.2 M40.50,66.96 h-1.2 M81.49,106.20 v1.2 M85.70,106.20 v1.2 M88.69,106.20 v1.2 M91.01,106.20 v1.2 M92.90,106.20 v1.2 M94.50,106.20 v1.2 M95.88,106.20 v1.2 M97.11,106.20 v1.2 M104.46,106.20 v1.2 M108.12,106.20 v1.2 M110.72,106.20 v1.2 M112.74,106.20 v1.2 M114.39,106.20 v1.2 M115.78,106.20 v1.2 M116.98,106.20 v1.2 M118.05,106.20 v1.2 " stroke="#555" stroke-width="0.7"/>
<rect x="38.50" y="96.80" width="2" height="3.5" fill="#111"/>
<rect x="58.10" y="106.50" width="4.00" height="1.6" fill="#111"/>
<path d="M81.50,20.00 V106.20 M40.50,68.50 H127.30" stroke="#444444" stroke-width="1.15"/>
<text x="24.24" y="29.60" font-size="8.80" fill="#262626" textLength="8.10" lengthAdjust="spacingAndGlyphs">10</text>
<text x="33.34" y="26.40" font-size="5.60" fill="#262626">5</text>
<text x="24.24" y="48.70" font-size="8.80" fill="#262626" textLength="8.10" lengthAdjust="spacingAndGlyphs">10</text>
<text x="33.34" y="45.50" font-size="5.60" fill="#262626">4</text>
<text x="24.24" y="67.80" font-size="8.80" fill="#262626" textLength="8.10" lengthAdjust="spacingAndGlyphs">10</text>
<text x="33.34" y="64.60" font-size="5.60" fill="#262626">3</text>
<text x="24.24" y="86.70" font-size="8.80" fill="#262626" textLength="8.10" lengthAdjust="spacingAndGlyphs">10</text>
<text x="33.34" y="83.50" font-size="5.60" fill="#262626">2</text>
<text x="36.30" y="101.30" font-size="8.60" text-anchor="end" fill="#262626" >0</text>
<rect x="38.30" y="115.40" width="1.9" height="0.9" fill="#262626"/>
<text x="41.44" y="117.60" font-size="8.80" fill="#262626" textLength="8.10" lengthAdjust="spacingAndGlyphs">10</text>
<text x="50.54" y="114.40" font-size="5.60" fill="#262626">3</text>
<text x="61.90" y="117.60" font-size="8.60" text-anchor="middle" fill="#262626" >0</text>
<text x="69.04" y="117.60" font-size="8.80" fill="#262626" textLength="8.10" lengthAdjust="spacingAndGlyphs">10</text>
<text x="78.14" y="114.40" font-size="5.60" fill="#262626">3</text>
<text x="92.44" y="117.60" font-size="8.80" fill="#262626" textLength="8.10" lengthAdjust="spacingAndGlyphs">10</text>
<text x="101.54" y="114.40" font-size="5.60" fill="#262626">4</text>
<text x="112.44" y="117.60" font-size="8.80" fill="#262626" textLength="8.10" lengthAdjust="spacingAndGlyphs">10</text>
<text x="121.54" y="114.40" font-size="5.60" fill="#262626">5</text>
<rect x="150.30" y="20.00" width="86.70" height="86.20" fill="none" stroke="#828282" stroke-width="1.0"/>
<path d="M150.30,20.00 V106.20 H237.00" fill="none" stroke="#767676" stroke-width="1.05"/>
<path d="M150.30,27.90 h-2 M150.30,47.00 h-2 M150.30,66.10 h-2 M150.30,85.00 h-2 M150.30,98.30 h-2 M155.80,106.20 v2 M169.90,106.20 v2 M184.10,106.20 v2 M208.00,106.20 v2 M228.80,106.20 v2 " stroke="#333" stroke-width="1"/>
<path d="M150.30,41.25 h-1.2 M150.30,37.89 h-1.2 M150.30,35.50 h-1.2 M150.30,33.65 h-1.2 M150.30,32.14 h-1.2 M150.30,30.86 h-1.2 M150.30,29.75 h-1.2 M150.30,28.77 h-1.2 M150.30,60.35 h-1.2 M150.30,56.99 h-1.2 M150.30,54.60 h-1.2 M150.30,52.75 h-1.2 M150.30,51.24 h-1.2 M150.30,49.96 h-1.2 M150.30,48.85 h-1.2 M150.30,47.87 h-1.2 M150.30,79.31 h-1.2 M150.30,75.98 h-1.2 M150.30,73.62 h-1.2 M150.30,71.79 h-1.2 M150.30,70.29 h-1.2 M150.30,69.03 h-1.2 M150.30,67.93 h-1.2 M150.30,66.96 h-1.2 M191.29,106.20 v1.2 M195.50,106.20 v1.2 M198.49,106.20 v1.2 M200.81,106.20 v1.2 M202.70,106.20 v1.2 M204.30,106.20 v1.2 M205.68,106.20 v1.2 M206.91,106.20 v1.2 M214.26,106.20 v1.2 M217.92,106.20 v1.2 M220.52,106.20 v1.2 M222.54,106.20 v1.2 M224.19,106.20 v1.2 M225.58,106.20 v1.2 M226.78,106.20 v1.2 M227.85,106.20 v1.2 " stroke="#555" stroke-width="0.7"/>
<rect x="148.30" y="96.80" width="2" height="3.5" fill="#111"/>
<rect x="167.90" y="106.50" width="4.00" height="1.6" fill="#111"/>
<path d="M190.40,20.00 V106.20 M150.30,68.80 H237.00" stroke="#444444" stroke-width="1.15"/>
<text x="134.04" y="29.60" font-size="8.80" fill="#262626" textLength="8.10" lengthAdjust="spacingAndGlyphs">10</text>
<text x="143.14" y="26.40" font-size="5.60" fill="#262626">5</text>
<text x="134.04" y="48.70" font-size="8.80" fill="#262626" textLength="8.10" lengthAdjust="spacingAndGlyphs">10</text>
<text x="143.14" y="45.50" font-size="5.60" fill="#262626">4</text>
<text x="134.04" y="67.80" font-size="8.80" fill="#262626" textLength="8.10" lengthAdjust="spacingAndGlyphs">10</text>
<text x="143.14" y="64.60" font-size="5.60" fill="#262626">3</text>
<text x="134.04" y="86.70" font-size="8.80" fill="#262626" textLength="8.10" lengthAdjust="spacingAndGlyphs">10</text>
<text x="143.14" y="83.50" font-size="5.60" fill="#262626">2</text>
<text x="146.10" y="101.30" font-size="8.60" text-anchor="end" fill="#262626" >0</text>
<rect x="148.10" y="115.40" width="1.9" height="0.9" fill="#262626"/>
<text x="151.24" y="117.60" font-size="8.80" fill="#262626" textLength="8.10" lengthAdjust="spacingAndGlyphs">10</text>
<text x="160.34" y="114.40" font-size="5.60" fill="#262626">3</text>
<text x="171.70" y="117.60" font-size="8.60" text-anchor="middle" fill="#262626" >0</text>
<text x="178.84" y="117.60" font-size="8.80" fill="#262626" textLength="8.10" lengthAdjust="spacingAndGlyphs">10</text>
<text x="187.94" y="114.40" font-size="5.60" fill="#262626">3</text>
<text x="202.24" y="117.60" font-size="8.80" fill="#262626" textLength="8.10" lengthAdjust="spacingAndGlyphs">10</text>
<text x="211.34" y="114.40" font-size="5.60" fill="#262626">4</text>
<text x="222.24" y="117.60" font-size="8.80" fill="#262626" textLength="8.10" lengthAdjust="spacingAndGlyphs">10</text>
<text x="231.34" y="114.40" font-size="5.60" fill="#262626">5</text>
<rect x="41.50" y="127.40" width="86.10" height="85.80" fill="none" stroke="#828282" stroke-width="1.0"/>
<path d="M41.50,127.40 V213.20 H127.60" fill="none" stroke="#767676" stroke-width="1.05"/>
<path d="M41.50,135.30 h-2 M41.50,154.40 h-2 M41.50,173.50 h-2 M41.50,192.40 h-2 M41.50,205.70 h-2 M47.00,213.20 v2 M61.10,213.20 v2 M75.30,213.20 v2 M99.20,213.20 v2 M120.00,213.20 v2 " stroke="#333" stroke-width="1"/>
<path d="M41.50,148.65 h-1.2 M41.50,145.29 h-1.2 M41.50,142.90 h-1.2 M41.50,141.05 h-1.2 M41.50,139.54 h-1.2 M41.50,138.26 h-1.2 M41.50,137.15 h-1.2 M41.50,136.17 h-1.2 M41.50,167.75 h-1.2 M41.50,164.39 h-1.2 M41.50,162.00 h-1.2 M41.50,160.15 h-1.2 M41.50,158.64 h-1.2 M41.50,157.36 h-1.2 M41.50,156.25 h-1.2 M41.50,155.27 h-1.2 M41.50,186.71 h-1.2 M41.50,183.38 h-1.2 M41.50,181.02 h-1.2 M41.50,179.19 h-1.2 M41.50,177.69 h-1.2 M41.50,176.43 h-1.2 M41.50,175.33 h-1.2 M41.50,174.36 h-1.2 M82.49,213.20 v1.2 M86.70,213.20 v1.2 M89.69,213.20 v1.2 M92.01,213.20 v1.2 M93.90,213.20 v1.2 M95.50,213.20 v1.2 M96.88,213.20 v1.2 M98.11,213.20 v1.2 M105.46,213.20 v1.2 M109.12,213.20 v1.2 M111.72,213.20 v1.2 M113.74,213.20 v1.2 M115.39,213.20 v1.2 M116.78,213.20 v1.2 M117.98,213.20 v1.2 M119.05,213.20 v1.2 " stroke="#555" stroke-width="0.7"/>
<rect x="39.50" y="204.20" width="2" height="3.5" fill="#111"/>
<rect x="59.10" y="213.50" width="4.00" height="1.6" fill="#111"/>
<path d="M81.90,127.40 V213.20 M41.50,175.30 H127.60" stroke="#444444" stroke-width="1.15"/>
<text x="24.74" y="138.40" font-size="8.80" fill="#262626" textLength="8.10" lengthAdjust="spacingAndGlyphs">10</text>
<text x="33.84" y="135.20" font-size="5.60" fill="#262626">5</text>
<text x="24.74" y="157.50" font-size="8.80" fill="#262626" textLength="8.10" lengthAdjust="spacingAndGlyphs">10</text>
<text x="33.84" y="154.30" font-size="5.60" fill="#262626">4</text>
<text x="24.74" y="176.60" font-size="8.80" fill="#262626" textLength="8.10" lengthAdjust="spacingAndGlyphs">10</text>
<text x="33.84" y="173.40" font-size="5.60" fill="#262626">3</text>
<text x="24.74" y="195.50" font-size="8.80" fill="#262626" textLength="8.10" lengthAdjust="spacingAndGlyphs">10</text>
<text x="33.84" y="192.30" font-size="5.60" fill="#262626">2</text>
<text x="37.30" y="210.10" font-size="8.60" text-anchor="end" fill="#262626" >0</text>
<rect x="39.30" y="222.40" width="1.9" height="0.9" fill="#262626"/>
<text x="42.44" y="224.60" font-size="8.80" fill="#262626" textLength="8.10" lengthAdjust="spacingAndGlyphs">10</text>
<text x="51.54" y="221.40" font-size="5.60" fill="#262626">3</text>
<text x="62.90" y="224.60" font-size="8.60" text-anchor="middle" fill="#262626" >0</text>
<text x="70.04" y="224.60" font-size="8.80" fill="#262626" textLength="8.10" lengthAdjust="spacingAndGlyphs">10</text>
<text x="79.14" y="221.40" font-size="5.60" fill="#262626">3</text>
<text x="93.44" y="224.60" font-size="8.80" fill="#262626" textLength="8.10" lengthAdjust="spacingAndGlyphs">10</text>
<text x="102.54" y="221.40" font-size="5.60" fill="#262626">4</text>
<text x="113.44" y="224.60" font-size="8.80" fill="#262626" textLength="8.10" lengthAdjust="spacingAndGlyphs">10</text>
<text x="122.54" y="221.40" font-size="5.60" fill="#262626">5</text>
<rect x="150.00" y="127.40" width="86.50" height="85.80" fill="none" stroke="#828282" stroke-width="1.0"/>
<path d="M150.00,127.40 V213.20 H236.50" fill="none" stroke="#767676" stroke-width="1.05"/>
<path d="M150.00,135.30 h-2 M150.00,154.40 h-2 M150.00,173.50 h-2 M150.00,192.40 h-2 M150.00,205.70 h-2 M155.50,213.20 v2 M169.60,213.20 v2 M183.80,213.20 v2 M207.70,213.20 v2 M228.50,213.20 v2 " stroke="#333" stroke-width="1"/>
<path d="M150.00,148.65 h-1.2 M150.00,145.29 h-1.2 M150.00,142.90 h-1.2 M150.00,141.05 h-1.2 M150.00,139.54 h-1.2 M150.00,138.26 h-1.2 M150.00,137.15 h-1.2 M150.00,136.17 h-1.2 M150.00,167.75 h-1.2 M150.00,164.39 h-1.2 M150.00,162.00 h-1.2 M150.00,160.15 h-1.2 M150.00,158.64 h-1.2 M150.00,157.36 h-1.2 M150.00,156.25 h-1.2 M150.00,155.27 h-1.2 M150.00,186.71 h-1.2 M150.00,183.38 h-1.2 M150.00,181.02 h-1.2 M150.00,179.19 h-1.2 M150.00,177.69 h-1.2 M150.00,176.43 h-1.2 M150.00,175.33 h-1.2 M150.00,174.36 h-1.2 M190.99,213.20 v1.2 M195.20,213.20 v1.2 M198.19,213.20 v1.2 M200.51,213.20 v1.2 M202.40,213.20 v1.2 M204.00,213.20 v1.2 M205.38,213.20 v1.2 M206.61,213.20 v1.2 M213.96,213.20 v1.2 M217.62,213.20 v1.2 M220.22,213.20 v1.2 M222.24,213.20 v1.2 M223.89,213.20 v1.2 M225.28,213.20 v1.2 M226.48,213.20 v1.2 M227.55,213.20 v1.2 " stroke="#555" stroke-width="0.7"/>
<rect x="148.00" y="204.20" width="2" height="3.5" fill="#111"/>
<rect x="167.60" y="213.50" width="4.00" height="1.6" fill="#111"/>
<path d="M190.70,127.40 V213.20 M150.00,175.20 H236.50" stroke="#444444" stroke-width="1.15"/>
<text x="133.24" y="138.40" font-size="8.80" fill="#262626" textLength="8.10" lengthAdjust="spacingAndGlyphs">10</text>
<text x="142.34" y="135.20" font-size="5.60" fill="#262626">5</text>
<text x="133.24" y="157.50" font-size="8.80" fill="#262626" textLength="8.10" lengthAdjust="spacingAndGlyphs">10</text>
<text x="142.34" y="154.30" font-size="5.60" fill="#262626">4</text>
<text x="133.24" y="176.60" font-size="8.80" fill="#262626" textLength="8.10" lengthAdjust="spacingAndGlyphs">10</text>
<text x="142.34" y="173.40" font-size="5.60" fill="#262626">3</text>
<text x="133.24" y="195.50" font-size="8.80" fill="#262626" textLength="8.10" lengthAdjust="spacingAndGlyphs">10</text>
<text x="142.34" y="192.30" font-size="5.60" fill="#262626">2</text>
<text x="145.80" y="210.10" font-size="8.60" text-anchor="end" fill="#262626" >0</text>
<rect x="147.80" y="222.40" width="1.9" height="0.9" fill="#262626"/>
<text x="150.94" y="224.60" font-size="8.80" fill="#262626" textLength="8.10" lengthAdjust="spacingAndGlyphs">10</text>
<text x="160.04" y="221.40" font-size="5.60" fill="#262626">3</text>
<text x="171.40" y="224.60" font-size="8.60" text-anchor="middle" fill="#262626" >0</text>
<text x="178.54" y="224.60" font-size="8.80" fill="#262626" textLength="8.10" lengthAdjust="spacingAndGlyphs">10</text>
<text x="187.64" y="221.40" font-size="5.60" fill="#262626">3</text>
<text x="201.94" y="224.60" font-size="8.80" fill="#262626" textLength="8.10" lengthAdjust="spacingAndGlyphs">10</text>
<text x="211.04" y="221.40" font-size="5.60" fill="#262626">4</text>
<text x="221.94" y="224.60" font-size="8.80" fill="#262626" textLength="8.10" lengthAdjust="spacingAndGlyphs">10</text>
<text x="231.04" y="221.40" font-size="5.60" fill="#262626">5</text>
<rect x="298.30" y="19.80" width="86.20" height="86.20" fill="none" stroke="#828282" stroke-width="1.0"/>
<path d="M298.30,19.80 V106.00 H384.50" fill="none" stroke="#767676" stroke-width="1.05"/>
<path d="M298.30,27.40 h-2 M298.30,45.80 h-2 M298.30,65.60 h-2 M298.30,84.60 h-2 M298.30,97.50 h-2 M313.70,106.00 v2 M334.00,106.00 v2 M356.20,106.00 v2 M376.50,106.00 v2 " stroke="#333" stroke-width="1"/>
<path d="M298.30,40.26 h-1.2 M298.30,37.02 h-1.2 M298.30,34.72 h-1.2 M298.30,32.94 h-1.2 M298.30,31.48 h-1.2 M298.30,30.25 h-1.2 M298.30,29.18 h-1.2 M298.30,28.24 h-1.2 M298.30,59.64 h-1.2 M298.30,56.15 h-1.2 M298.30,53.68 h-1.2 M298.30,51.76 h-1.2 M298.30,50.19 h-1.2 M298.30,48.87 h-1.2 M298.30,47.72 h-1.2 M298.30,46.71 h-1.2 M298.30,78.88 h-1.2 M298.30,75.53 h-1.2 M298.30,73.16 h-1.2 M298.30,71.32 h-1.2 M298.30,69.82 h-1.2 M298.30,68.54 h-1.2 M298.30,67.44 h-1.2 M298.30,66.47 h-1.2 M340.68,106.00 v1.2 M344.59,106.00 v1.2 M347.37,106.00 v1.2 M349.52,106.00 v1.2 M351.27,106.00 v1.2 M352.76,106.00 v1.2 M354.05,106.00 v1.2 M355.18,106.00 v1.2 M362.31,106.00 v1.2 M365.89,106.00 v1.2 M368.42,106.00 v1.2 M370.39,106.00 v1.2 M372.00,106.00 v1.2 M373.36,106.00 v1.2 M374.53,106.00 v1.2 M375.57,106.00 v1.2 " stroke="#555" stroke-width="0.7"/>
<rect x="296.30" y="96.00" width="2" height="3.5" fill="#111"/>
<rect x="311.70" y="106.30" width="4.00" height="1.6" fill="#111"/>
<path d="M341.30,19.80 V106.00 M298.30,78.40 H384.50" stroke="#444444" stroke-width="1.15"/>
<text x="282.91" y="29.70" font-size="8.40" fill="#262626" textLength="7.40" lengthAdjust="spacingAndGlyphs">10</text>
<text x="291.31" y="26.50" font-size="5.60" fill="#262626">5</text>
<text x="282.91" y="48.20" font-size="8.40" fill="#262626" textLength="7.40" lengthAdjust="spacingAndGlyphs">10</text>
<text x="291.31" y="45.00" font-size="5.60" fill="#262626">4</text>
<text x="282.91" y="68.10" font-size="8.40" fill="#262626" textLength="7.40" lengthAdjust="spacingAndGlyphs">10</text>
<text x="291.31" y="64.90" font-size="5.60" fill="#262626">3</text>
<text x="282.91" y="87.10" font-size="8.40" fill="#262626" textLength="7.40" lengthAdjust="spacingAndGlyphs">10</text>
<text x="291.31" y="83.90" font-size="5.60" fill="#262626">2</text>
<text x="293.70" y="100.50" font-size="8.40" text-anchor="end" fill="#262626" >0</text>
<text x="317.00" y="117.60" font-size="8.40" text-anchor="middle" fill="#262626" >0</text>
<text x="328.11" y="117.60" font-size="8.40" fill="#262626" textLength="7.40" lengthAdjust="spacingAndGlyphs">10</text>
<text x="336.51" y="114.40" font-size="5.60" fill="#262626">3</text>
<text x="350.31" y="117.60" font-size="8.40" fill="#262626" textLength="7.40" lengthAdjust="spacingAndGlyphs">10</text>
<text x="358.71" y="114.40" font-size="5.60" fill="#262626">4</text>
<text x="370.71" y="117.60" font-size="8.40" fill="#262626" textLength="7.40" lengthAdjust="spacingAndGlyphs">10</text>
<text x="379.11" y="114.40" font-size="5.60" fill="#262626">5</text>
<rect x="405.20" y="19.80" width="87.00" height="86.20" fill="none" stroke="#828282" stroke-width="1.0"/>
<path d="M405.20,19.80 V106.00 H492.20" fill="none" stroke="#767676" stroke-width="1.05"/>
<path d="M405.20,27.40 h-2 M405.20,45.80 h-2 M405.20,65.60 h-2 M405.20,84.60 h-2 M405.20,97.50 h-2 M420.60,106.00 v2 M440.90,106.00 v2 M463.10,106.00 v2 M483.40,106.00 v2 " stroke="#333" stroke-width="1"/>
<path d="M405.20,40.26 h-1.2 M405.20,37.02 h-1.2 M405.20,34.72 h-1.2 M405.20,32.94 h-1.2 M405.20,31.48 h-1.2 M405.20,30.25 h-1.2 M405.20,29.18 h-1.2 M405.20,28.24 h-1.2 M405.20,59.64 h-1.2 M405.20,56.15 h-1.2 M405.20,53.68 h-1.2 M405.20,51.76 h-1.2 M405.20,50.19 h-1.2 M405.20,48.87 h-1.2 M405.20,47.72 h-1.2 M405.20,46.71 h-1.2 M405.20,78.88 h-1.2 M405.20,75.53 h-1.2 M405.20,73.16 h-1.2 M405.20,71.32 h-1.2 M405.20,69.82 h-1.2 M405.20,68.54 h-1.2 M405.20,67.44 h-1.2 M405.20,66.47 h-1.2 M447.58,106.00 v1.2 M451.49,106.00 v1.2 M454.27,106.00 v1.2 M456.42,106.00 v1.2 M458.17,106.00 v1.2 M459.66,106.00 v1.2 M460.95,106.00 v1.2 M462.08,106.00 v1.2 M469.21,106.00 v1.2 M472.79,106.00 v1.2 M475.32,106.00 v1.2 M477.29,106.00 v1.2 M478.90,106.00 v1.2 M480.26,106.00 v1.2 M481.43,106.00 v1.2 M482.47,106.00 v1.2 " stroke="#555" stroke-width="0.7"/>
<rect x="403.20" y="96.00" width="2" height="3.5" fill="#111"/>
<rect x="418.60" y="106.30" width="4.00" height="1.6" fill="#111"/>
<path d="M448.50,19.80 V106.00 M405.20,78.40 H492.20" stroke="#444444" stroke-width="1.15"/>
<text x="389.81" y="29.70" font-size="8.40" fill="#262626" textLength="7.40" lengthAdjust="spacingAndGlyphs">10</text>
<text x="398.21" y="26.50" font-size="5.60" fill="#262626">5</text>
<text x="389.81" y="48.20" font-size="8.40" fill="#262626" textLength="7.40" lengthAdjust="spacingAndGlyphs">10</text>
<text x="398.21" y="45.00" font-size="5.60" fill="#262626">4</text>
<text x="389.81" y="68.10" font-size="8.40" fill="#262626" textLength="7.40" lengthAdjust="spacingAndGlyphs">10</text>
<text x="398.21" y="64.90" font-size="5.60" fill="#262626">3</text>
<text x="389.81" y="87.10" font-size="8.40" fill="#262626" textLength="7.40" lengthAdjust="spacingAndGlyphs">10</text>
<text x="398.21" y="83.90" font-size="5.60" fill="#262626">2</text>
<text x="400.60" y="100.50" font-size="8.40" text-anchor="end" fill="#262626" >0</text>
<text x="423.90" y="117.60" font-size="8.40" text-anchor="middle" fill="#262626" >0</text>
<text x="435.01" y="117.60" font-size="8.40" fill="#262626" textLength="7.40" lengthAdjust="spacingAndGlyphs">10</text>
<text x="443.41" y="114.40" font-size="5.60" fill="#262626">3</text>
<text x="457.21" y="117.60" font-size="8.40" fill="#262626" textLength="7.40" lengthAdjust="spacingAndGlyphs">10</text>
<text x="465.61" y="114.40" font-size="5.60" fill="#262626">4</text>
<text x="477.61" y="117.60" font-size="8.40" fill="#262626" textLength="7.40" lengthAdjust="spacingAndGlyphs">10</text>
<text x="486.01" y="114.40" font-size="5.60" fill="#262626">5</text>
<rect x="298.20" y="127.20" width="86.30" height="86.20" fill="none" stroke="#828282" stroke-width="1.0"/>
<path d="M298.20,127.20 V213.40 H384.50" fill="none" stroke="#767676" stroke-width="1.05"/>
<path d="M298.20,134.80 h-2 M298.20,153.20 h-2 M298.20,173.00 h-2 M298.20,192.00 h-2 M298.20,204.90 h-2 M313.60,213.40 v2 M333.90,213.40 v2 M356.10,213.40 v2 M376.40,213.40 v2 " stroke="#333" stroke-width="1"/>
<path d="M298.20,147.66 h-1.2 M298.20,144.42 h-1.2 M298.20,142.12 h-1.2 M298.20,140.34 h-1.2 M298.20,138.88 h-1.2 M298.20,137.65 h-1.2 M298.20,136.58 h-1.2 M298.20,135.64 h-1.2 M298.20,167.04 h-1.2 M298.20,163.55 h-1.2 M298.20,161.08 h-1.2 M298.20,159.16 h-1.2 M298.20,157.59 h-1.2 M298.20,156.27 h-1.2 M298.20,155.12 h-1.2 M298.20,154.11 h-1.2 M298.20,186.28 h-1.2 M298.20,182.93 h-1.2 M298.20,180.56 h-1.2 M298.20,178.72 h-1.2 M298.20,177.22 h-1.2 M298.20,175.94 h-1.2 M298.20,174.84 h-1.2 M298.20,173.87 h-1.2 M340.58,213.40 v1.2 M344.49,213.40 v1.2 M347.27,213.40 v1.2 M349.42,213.40 v1.2 M351.17,213.40 v1.2 M352.66,213.40 v1.2 M353.95,213.40 v1.2 M355.08,213.40 v1.2 M362.21,213.40 v1.2 M365.79,213.40 v1.2 M368.32,213.40 v1.2 M370.29,213.40 v1.2 M371.90,213.40 v1.2 M373.26,213.40 v1.2 M374.43,213.40 v1.2 M375.47,213.40 v1.2 " stroke="#555" stroke-width="0.7"/>
<rect x="296.20" y="203.40" width="2" height="3.5" fill="#111"/>
<rect x="311.60" y="213.70" width="4.00" height="1.6" fill="#111"/>
<path d="M341.50,127.20 V213.40 M298.20,185.40 H384.50" stroke="#444444" stroke-width="1.15"/>
<text x="282.81" y="137.10" font-size="8.40" fill="#262626" textLength="7.40" lengthAdjust="spacingAndGlyphs">10</text>
<text x="291.21" y="133.90" font-size="5.60" fill="#262626">5</text>
<text x="282.81" y="155.60" font-size="8.40" fill="#262626" textLength="7.40" lengthAdjust="spacingAndGlyphs">10</text>
<text x="291.21" y="152.40" font-size="5.60" fill="#262626">4</text>
<text x="282.81" y="175.50" font-size="8.40" fill="#262626" textLength="7.40" lengthAdjust="spacingAndGlyphs">10</text>
<text x="291.21" y="172.30" font-size="5.60" fill="#262626">3</text>
<text x="282.81" y="194.50" font-size="8.40" fill="#262626" textLength="7.40" lengthAdjust="spacingAndGlyphs">10</text>
<text x="291.21" y="191.30" font-size="5.60" fill="#262626">2</text>
<text x="293.60" y="207.90" font-size="8.40" text-anchor="end" fill="#262626" >0</text>
<text x="316.90" y="225.00" font-size="8.40" text-anchor="middle" fill="#262626" >0</text>
<text x="328.01" y="225.00" font-size="8.40" fill="#262626" textLength="7.40" lengthAdjust="spacingAndGlyphs">10</text>
<text x="336.41" y="221.80" font-size="5.60" fill="#262626">3</text>
<text x="350.21" y="225.00" font-size="8.40" fill="#262626" textLength="7.40" lengthAdjust="spacingAndGlyphs">10</text>
<text x="358.61" y="221.80" font-size="5.60" fill="#262626">4</text>
<text x="370.61" y="225.00" font-size="8.40" fill="#262626" textLength="7.40" lengthAdjust="spacingAndGlyphs">10</text>
<text x="379.01" y="221.80" font-size="5.60" fill="#262626">5</text>
<rect x="405.20" y="127.20" width="87.10" height="86.20" fill="none" stroke="#828282" stroke-width="1.0"/>
<path d="M405.20,127.20 V213.40 H492.30" fill="none" stroke="#767676" stroke-width="1.05"/>
<path d="M405.20,134.80 h-2 M405.20,153.20 h-2 M405.20,173.00 h-2 M405.20,192.00 h-2 M405.20,204.90 h-2 M420.60,213.40 v2 M440.90,213.40 v2 M463.10,213.40 v2 M483.40,213.40 v2 " stroke="#333" stroke-width="1"/>
<path d="M405.20,147.66 h-1.2 M405.20,144.42 h-1.2 M405.20,142.12 h-1.2 M405.20,140.34 h-1.2 M405.20,138.88 h-1.2 M405.20,137.65 h-1.2 M405.20,136.58 h-1.2 M405.20,135.64 h-1.2 M405.20,167.04 h-1.2 M405.20,163.55 h-1.2 M405.20,161.08 h-1.2 M405.20,159.16 h-1.2 M405.20,157.59 h-1.2 M405.20,156.27 h-1.2 M405.20,155.12 h-1.2 M405.20,154.11 h-1.2 M405.20,186.28 h-1.2 M405.20,182.93 h-1.2 M405.20,180.56 h-1.2 M405.20,178.72 h-1.2 M405.20,177.22 h-1.2 M405.20,175.94 h-1.2 M405.20,174.84 h-1.2 M405.20,173.87 h-1.2 M447.58,213.40 v1.2 M451.49,213.40 v1.2 M454.27,213.40 v1.2 M456.42,213.40 v1.2 M458.17,213.40 v1.2 M459.66,213.40 v1.2 M460.95,213.40 v1.2 M462.08,213.40 v1.2 M469.21,213.40 v1.2 M472.79,213.40 v1.2 M475.32,213.40 v1.2 M477.29,213.40 v1.2 M478.90,213.40 v1.2 M480.26,213.40 v1.2 M481.43,213.40 v1.2 M482.47,213.40 v1.2 " stroke="#555" stroke-width="0.7"/>
<rect x="403.20" y="203.40" width="2" height="3.5" fill="#111"/>
<rect x="418.60" y="213.70" width="4.00" height="1.6" fill="#111"/>
<path d="M448.30,127.20 V213.40 M405.20,185.50 H492.30" stroke="#444444" stroke-width="1.15"/>
<text x="389.81" y="137.10" font-size="8.40" fill="#262626" textLength="7.40" lengthAdjust="spacingAndGlyphs">10</text>
<text x="398.21" y="133.90" font-size="5.60" fill="#262626">5</text>
<text x="389.81" y="155.60" font-size="8.40" fill="#262626" textLength="7.40" lengthAdjust="spacingAndGlyphs">10</text>
<text x="398.21" y="152.40" font-size="5.60" fill="#262626">4</text>
<text x="389.81" y="175.50" font-size="8.40" fill="#262626" textLength="7.40" lengthAdjust="spacingAndGlyphs">10</text>
<text x="398.21" y="172.30" font-size="5.60" fill="#262626">3</text>
<text x="389.81" y="194.50" font-size="8.40" fill="#262626" textLength="7.40" lengthAdjust="spacingAndGlyphs">10</text>
<text x="398.21" y="191.30" font-size="5.60" fill="#262626">2</text>
<text x="400.60" y="207.90" font-size="8.40" text-anchor="end" fill="#262626" >0</text>
<text x="423.90" y="225.00" font-size="8.40" text-anchor="middle" fill="#262626" >0</text>
<text x="435.01" y="225.00" font-size="8.40" fill="#262626" textLength="7.40" lengthAdjust="spacingAndGlyphs">10</text>
<text x="443.41" y="221.80" font-size="5.60" fill="#262626">3</text>
<text x="457.21" y="225.00" font-size="8.40" fill="#262626" textLength="7.40" lengthAdjust="spacingAndGlyphs">10</text>
<text x="465.61" y="221.80" font-size="5.60" fill="#262626">4</text>
<text x="477.61" y="225.00" font-size="8.40" fill="#262626" textLength="7.40" lengthAdjust="spacingAndGlyphs">10</text>
<text x="486.01" y="221.80" font-size="5.60" fill="#262626">5</text>
<text x="121.90" y="31.30" font-size="8.10" text-anchor="end" fill="#262626" >0.53</text>
<text x="231.90" y="31.80" font-size="8.10" text-anchor="end" fill="#262626" >2.08</text>
<text x="117.30" y="139.20" font-size="8.10" text-anchor="end" fill="#262626" >0</text>
<text x="231.60" y="139.00" font-size="8.10" text-anchor="end" fill="#262626" >84.3</text>
<text x="380.00" y="29.00" font-size="7.50" text-anchor="end" fill="#262626" >1.07</text>
<text x="488.60" y="28.90" font-size="7.50" text-anchor="end" fill="#262626" >4.50</text>
<text x="380.00" y="137.10" font-size="7.50" text-anchor="end" fill="#262626" >2.40</text>
<text x="488.50" y="137.50" font-size="7.50" text-anchor="end" fill="#262626" >47.4</text>
<text x="239.20" y="61.60" font-size="8.90" text-anchor="start" fill="#262626" textLength="18.80" lengthAdjust="spacingAndGlyphs" >mock</text>
<text x="238.50" y="167.00" font-size="8.00" text-anchor="start" fill="#262626" textLength="12.30" lengthAdjust="spacingAndGlyphs" >WT</text>
<text x="494.50" y="61.40" font-size="8.90" text-anchor="start" fill="#262626" textLength="18.80" lengthAdjust="spacingAndGlyphs" >mock</text>
<text x="493.80" y="166.60" font-size="8.00" text-anchor="start" fill="#262626" textLength="12.40" lengthAdjust="spacingAndGlyphs" >WT</text>
<path d="M18.85,182 V230.9 H140" fill="none" stroke="#333" stroke-width="1.45"/>
<path d="M18.85,176.8 L22.0,184.8 L18.85,183.0 L15.7,184.8 Z" fill="#111"/>
<path d="M145.3,230.9 L137.1,234.1 L139.0,230.9 L137.1,227.7 Z" fill="#111"/>
<path d="M277.45,180 V231.1 H399" fill="none" stroke="#333" stroke-width="1.45"/>
<path d="M277.45,174.5 L280.6,182.4 L277.45,180.6 L274.3,182.4 Z" fill="#111"/>
<path d="M403.6,231.1 L395.6,234.3 L397.5,231.1 L395.6,227.9 Z" fill="#111"/>
<text x="69.80" y="242.00" font-size="9.40" text-anchor="start" fill="#262626" textLength="27.20" lengthAdjust="spacingAndGlyphs" >CD107a</text>
<text x="326.60" y="242.00" font-size="9.40" text-anchor="start" fill="#262626" textLength="27.20" lengthAdjust="spacingAndGlyphs" >CD107a</text>
<text x="0" y="0" font-size="9" fill="#262626" textLength="13.6" lengthAdjust="spacingAndGlyphs" transform="translate(15.9,210.6) rotate(-90)">CD8</text>
<text x="0" y="0" font-size="9" fill="#262626" textLength="12.8" lengthAdjust="spacingAndGlyphs" transform="translate(273.7,208.3) rotate(-90)">CD8</text>
<path d="M185.25,263.6 V403.5 H369" fill="none" stroke="#111" stroke-width="1.55"/>
<path d="M185,403.50 h-3 M185,369.18 h-3 M185,334.85 h-3 M185,300.52 h-3 M185,266.20 h-3 M210.90,403.5 v3.2 M262.20,403.5 v3.2 M313.50,403.5 v3.2 M364.90,403.5 v3.2 " stroke="#111" stroke-width="1.1"/>
<text x="179.30" y="406.30" font-size="8.40" text-anchor="end" fill="#262626" textLength="4.40" lengthAdjust="spacingAndGlyphs" >0</text>
<text x="179.30" y="371.98" font-size="8.40" text-anchor="end" fill="#262626" textLength="8.80" lengthAdjust="spacingAndGlyphs" >10</text>
<text x="179.30" y="337.65" font-size="8.40" text-anchor="end" fill="#262626" textLength="8.80" lengthAdjust="spacingAndGlyphs" >20</text>
<text x="179.30" y="303.32" font-size="8.40" text-anchor="end" fill="#262626" textLength="8.80" lengthAdjust="spacingAndGlyphs" >30</text>
<text x="179.30" y="269.00" font-size="8.40" text-anchor="end" fill="#262626" textLength="8.80" lengthAdjust="spacingAndGlyphs" >40</text>
<text x="205.70" y="416.70" font-size="8.40" text-anchor="start" fill="#262626" textLength="10.60" lengthAdjust="spacingAndGlyphs" >0.5</text>
<text x="260.40" y="416.70" font-size="8.40" text-anchor="start" fill="#262626" textLength="3.20" lengthAdjust="spacingAndGlyphs" >1</text>
<text x="311.10" y="416.70" font-size="8.40" text-anchor="start" fill="#262626" textLength="4.40" lengthAdjust="spacingAndGlyphs" >2</text>
<text x="362.40" y="416.70" font-size="8.40" text-anchor="start" fill="#262626" textLength="4.60" lengthAdjust="spacingAndGlyphs" >4</text>
<text x="262.40" y="429.70" font-size="9.40" text-anchor="start" fill="#262626" textLength="29.60" lengthAdjust="spacingAndGlyphs" >E : Tratio</text>
<text x="0" y="0" font-size="9.0" fill="#262626" textLength="59.6" lengthAdjust="spacingAndGlyphs" transform="translate(164.7,363.2) rotate(-90)">% maximum lysis</text>
<path d="M210.90,357.90 V381.90 M208.10,357.90 h5.6 M208.10,381.90 h5.6 M262.20,334.30 V369.50 M259.40,334.30 h5.6 M259.40,369.50 h5.6 M313.50,305.20 V346.70 M310.70,305.20 h5.6 M310.70,346.70 h5.6 M364.90,279.20 V302.30 M362.10,279.20 h5.6 M362.10,302.30 h5.6 " stroke="#9e3050" stroke-width="1.1" fill="none"/>
<path d="M210.90,390.60 V396.40 M208.10,390.60 h5.6 M208.10,396.40 h5.6 M262.20,385.20 V390.80 M259.40,385.20 h5.6 M259.40,390.80 h5.6 M313.50,378.80 V388.30 M310.70,378.80 h5.6 M310.70,388.30 h5.6 M364.90,358.30 V379.50 M362.10,358.30 h5.6 M362.10,379.50 h5.6 " stroke="#4d5d78" stroke-width="1.1" fill="none"/>
<polyline points="210.90,369.80 262.20,351.80 313.50,326.00 364.90,290.50" fill="none" stroke="#8c0c2c" stroke-width="1.75"/>
<polyline points="210.90,393.50 262.20,388.00 313.50,383.60 364.90,368.80" fill="none" stroke="#1f3052" stroke-width="1.65"/>
<rect x="208.00" y="367.00" width="5.8" height="5.6" fill="#a8102e"/>
<rect x="259.30" y="349.00" width="5.8" height="5.6" fill="#a8102e"/>
<rect x="310.60" y="323.20" width="5.8" height="5.6" fill="#a8102e"/>
<rect x="362.00" y="287.70" width="5.8" height="5.6" fill="#a8102e"/>
<circle cx="210.90" cy="393.50" r="2.7" fill="#2a4080"/>
<circle cx="262.20" cy="388.00" r="2.7" fill="#2a4080"/>
<circle cx="313.50" cy="383.60" r="2.7" fill="#2a4080"/>
<circle cx="364.90" cy="368.80" r="2.7" fill="#2a4080"/>
<circle cx="260.45" cy="330.20" r="1.05" fill="#1a1a1a"/>
<circle cx="263.75" cy="330.20" r="1.05" fill="#1a1a1a"/>
<circle cx="310.20" cy="301.60" r="1.05" fill="#1a1a1a"/>
<circle cx="313.50" cy="301.60" r="1.05" fill="#1a1a1a"/>
<circle cx="316.80" cy="301.60" r="1.05" fill="#1a1a1a"/>
<circle cx="361.60" cy="275.10" r="1.05" fill="#1a1a1a"/>
<circle cx="364.90" cy="275.10" r="1.05" fill="#1a1a1a"/>
<circle cx="368.20" cy="275.10" r="1.05" fill="#1a1a1a"/>
<path d="M191.1,273.7 H202.2" stroke="#8c0c2c" stroke-width="1.75"/>
<rect x="193.9" y="271.1" width="5.4" height="5.2" fill="#a8102e"/>
<path d="M191.1,284.9 H202.2" stroke="#1f3052" stroke-width="1.65"/>
<circle cx="196.6" cy="284.9" r="2.4" fill="#2a4080"/>
<text x="205.00" y="275.70" font-size="7.60" text-anchor="start" fill="#262626" textLength="10.40" lengthAdjust="spacingAndGlyphs" >WT</text>
<text x="205.00" y="288.00" font-size="8.00" text-anchor="start" fill="#262626" textLength="18.00" lengthAdjust="spacingAndGlyphs" >mock</text>
</g>
<rect x="0" y="0" width="520" height="1.1" fill="#000"/>
<rect x="0" y="0" width="1.05" height="439" fill="#000"/>
<rect x="518.5" y="0" width="1.5" height="439" fill="#000"/>
<rect x="0" y="437.4" width="520" height="1.6" fill="#000"/>
</svg></body></html>
